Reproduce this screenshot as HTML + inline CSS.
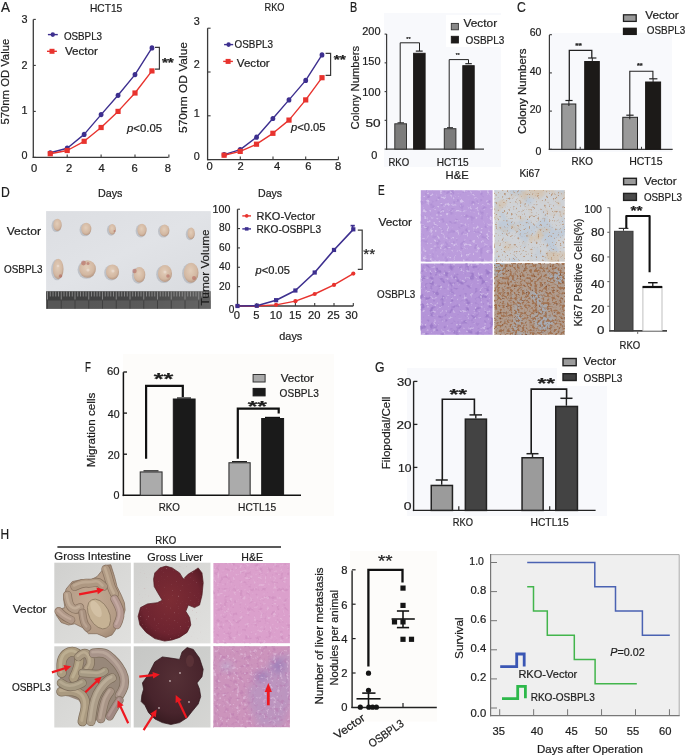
<!DOCTYPE html>
<html><head><meta charset="utf-8"><style>
html,body{margin:0;padding:0;background:#fff;}
body{width:685px;height:756px;overflow:hidden;}
svg{display:block;font-family:"Liberation Sans", sans-serif;will-change:transform;}
text{stroke:#1e1e1e;stroke-width:0.22px;}
</style></head><body>
<svg width="685" height="756" viewBox="0 0 685 756">
<defs><linearGradient id="dbg" x1="0" y1="0" x2="1" y2="1">
<stop offset="0" stop-color="#dcdee2"/><stop offset="0.5" stop-color="#e1e3e7"/><stop offset="1" stop-color="#d9dbdf"/></linearGradient>
<linearGradient id="rul" x1="0" y1="0" x2="1" y2="0">
<stop offset="0" stop-color="#3e3e3e"/><stop offset="0.6" stop-color="#474747"/><stop offset="1" stop-color="#5e5e5e"/></linearGradient>
<radialGradient id="tum" cx="0.45" cy="0.4" r="0.62">
<stop offset="0" stop-color="#e2cdb9"/><stop offset="0.7" stop-color="#d3b8a2"/><stop offset="1" stop-color="#b59682"/></radialGradient>
<filter id="heW" x="0" y="0" width="1" height="1" color-interpolation-filters="sRGB"><feTurbulence type="fractalNoise" baseFrequency="0.3" numOctaves="2" seed="3"/><feColorMatrix type="matrix" values="0 0 0 0 0.910  0 0 0 0 0.871  0 0 0 0 0.961  6 0 0 0 -3.600"/><feGaussianBlur stdDeviation="0.45"/></filter>
<filter id="heD" x="0" y="0" width="1" height="1" color-interpolation-filters="sRGB"><feTurbulence type="fractalNoise" baseFrequency="0.2" numOctaves="2" seed="8"/><feColorMatrix type="matrix" values="0 0 0 0 0.608  0 0 0 0 0.471  0 0 0 0 0.784  5 0 0 0 -2.900"/><feGaussianBlur stdDeviation="0.45"/></filter>
<filter id="heW2" x="0" y="0" width="1" height="1" color-interpolation-filters="sRGB"><feTurbulence type="fractalNoise" baseFrequency="0.3" numOctaves="2" seed="11"/><feColorMatrix type="matrix" values="0 0 0 0 0.910  0 0 0 0 0.871  0 0 0 0 0.961  6 0 0 0 -3.720"/><feGaussianBlur stdDeviation="0.45"/></filter>
<filter id="heD2" x="0" y="0" width="1" height="1" color-interpolation-filters="sRGB"><feTurbulence type="fractalNoise" baseFrequency="0.2" numOctaves="2" seed="13"/><feColorMatrix type="matrix" values="0 0 0 0 0.549  0 0 0 0 0.412  0 0 0 0 0.745  5 0 0 0 -2.700"/><feGaussianBlur stdDeviation="0.45"/></filter>
<filter id="kBl" x="0" y="0" width="1" height="1" color-interpolation-filters="sRGB"><feTurbulence type="fractalNoise" baseFrequency="0.05" numOctaves="3" seed="21"/><feColorMatrix type="matrix" values="0 0 0 0 0.706  0 0 0 0 0.776  0 0 0 0 0.855  6 0 0 0 -3.000"/><feGaussianBlur stdDeviation="0.45"/></filter>
<filter id="kTan" x="0" y="0" width="1" height="1" color-interpolation-filters="sRGB"><feTurbulence type="fractalNoise" baseFrequency="0.06" numOctaves="3" seed="26"/><feColorMatrix type="matrix" values="0 0 0 0 0.843  0 0 0 0 0.745  0 0 0 0 0.627  5 0 0 0 -2.600"/><feGaussianBlur stdDeviation="0.45"/></filter>
<filter id="kBr" x="0" y="0" width="1" height="1" color-interpolation-filters="sRGB"><feTurbulence type="fractalNoise" baseFrequency="0.45" numOctaves="2" seed="22"/><feColorMatrix type="matrix" values="0 0 0 0 0.686  0 0 0 0 0.490  0 0 0 0 0.333  6 0 0 0 -3.600"/><feGaussianBlur stdDeviation="0.45"/></filter>
<filter id="kBr2" x="0" y="0" width="1" height="1" color-interpolation-filters="sRGB"><feTurbulence type="fractalNoise" baseFrequency="0.40" numOctaves="2" seed="23"/><feColorMatrix type="matrix" values="0 0 0 0 0.627  0 0 0 0 0.431  0 0 0 0 0.294  5 0 0 0 -2.300"/><feGaussianBlur stdDeviation="0.45"/></filter>
<filter id="kDk" x="0" y="0" width="1" height="1" color-interpolation-filters="sRGB"><feTurbulence type="fractalNoise" baseFrequency="0.5" numOctaves="2" seed="24"/><feColorMatrix type="matrix" values="0 0 0 0 0.431  0 0 0 0 0.255  0 0 0 0 0.176  7 0 0 0 -4.760"/><feGaussianBlur stdDeviation="0.45"/></filter>
<filter id="kBl2" x="0" y="0" width="1" height="1" color-interpolation-filters="sRGB"><feTurbulence type="fractalNoise" baseFrequency="0.045" numOctaves="3" seed="25"/><feColorMatrix type="matrix" values="0 0 0 0 0.627  0 0 0 0 0.725  0 0 0 0 0.824  6 0 0 0 -3.360"/><feGaussianBlur stdDeviation="0.45"/></filter>
<linearGradient id="gbg" x1="0" y1="0" x2="1" y2="1">
<stop offset="0" stop-color="#d0d0ce"/><stop offset="0.5" stop-color="#d9d9d7"/><stop offset="1" stop-color="#e0e0de"/></linearGradient>
<linearGradient id="gbg2" x1="0" y1="0" x2="1" y2="1">
<stop offset="0" stop-color="#c6c7c5"/><stop offset="0.6" stop-color="#cfd0ce"/><stop offset="1" stop-color="#d6d6d4"/></linearGradient>
<radialGradient id="intg" cx="0.5" cy="0.5" r="0.6">
<stop offset="0" stop-color="#c2aa94"/><stop offset="0.75" stop-color="#b29a84"/><stop offset="1" stop-color="#9a826e"/></radialGradient>
<radialGradient id="intg2" cx="0.45" cy="0.45" r="0.6">
<stop offset="0" stop-color="#b0a088"/><stop offset="0.75" stop-color="#a09078"/><stop offset="1" stop-color="#8a7a68"/></radialGradient>
<radialGradient id="livg" cx="0.5" cy="0.45" r="0.6">
<stop offset="0" stop-color="#7c2c34"/><stop offset="0.75" stop-color="#6e2430"/><stop offset="1" stop-color="#561a24"/></radialGradient>
<radialGradient id="livg2" cx="0.55" cy="0.4" r="0.6">
<stop offset="0" stop-color="#553036"/><stop offset="0.75" stop-color="#48242c"/><stop offset="1" stop-color="#3a1c22"/></radialGradient>
<filter id="hpW" x="0" y="0" width="1" height="1" color-interpolation-filters="sRGB"><feTurbulence type="fractalNoise" baseFrequency="0.3" numOctaves="2" seed="31"/><feColorMatrix type="matrix" values="0 0 0 0 0.941  0 0 0 0 0.843  0 0 0 0 0.922  6 0 0 0 -3.600"/><feGaussianBlur stdDeviation="0.45"/></filter>
<filter id="hpD" x="0" y="0" width="1" height="1" color-interpolation-filters="sRGB"><feTurbulence type="fractalNoise" baseFrequency="0.25" numOctaves="2" seed="32"/><feColorMatrix type="matrix" values="0 0 0 0 0.745  0 0 0 0 0.471  0 0 0 0 0.686  5 0 0 0 -2.800"/><feGaussianBlur stdDeviation="0.45"/></filter>
<filter id="hpW2" x="0" y="0" width="1" height="1" color-interpolation-filters="sRGB"><feTurbulence type="fractalNoise" baseFrequency="0.3" numOctaves="2" seed="33"/><feColorMatrix type="matrix" values="0 0 0 0 0.922  0 0 0 0 0.824  0 0 0 0 0.922  6 0 0 0 -3.600"/><feGaussianBlur stdDeviation="0.45"/></filter>
<filter id="hpD2" x="0" y="0" width="1" height="1" color-interpolation-filters="sRGB"><feTurbulence type="fractalNoise" baseFrequency="0.25" numOctaves="2" seed="34"/><feColorMatrix type="matrix" values="0 0 0 0 0.706  0 0 0 0 0.431  0 0 0 0 0.667  5 0 0 0 -2.750"/><feGaussianBlur stdDeviation="0.45"/></filter>
<filter id="hpB" x="0" y="0" width="1" height="1" color-interpolation-filters="sRGB"><feTurbulence type="fractalNoise" baseFrequency="0.06" numOctaves="3" seed="35"/><feColorMatrix type="matrix" values="0 0 0 0 0.549  0 0 0 0 0.471  0 0 0 0 0.745  7 0 0 0 -3.850"/><feGaussianBlur stdDeviation="0.45"/></filter>
<filter id="lvS" x="0" y="0" width="1" height="1" color-interpolation-filters="sRGB"><feTurbulence type="fractalNoise" baseFrequency="0.5" numOctaves="2" seed="36"/><feColorMatrix type="matrix" values="0 0 0 0 0.784  0 0 0 0 0.627  0 0 0 0 0.647  8 0 0 0 -5.600"/><feGaussianBlur stdDeviation="0.45"/></filter>
<filter id="bl3" x="-0.3" y="-0.3" width="1.6" height="1.6"><feGaussianBlur stdDeviation="3"/></filter></defs>
<rect width="685" height="756" fill="#ffffff"/>
<text x="1.00" y="11.52" font-size="14" fill="#1e1e1e" textLength="9.00" lengthAdjust="spacingAndGlyphs">A</text>
<text x="89.90" y="11.95" font-size="11.2" fill="#1e1e1e" textLength="32.40" lengthAdjust="spacingAndGlyphs">HCT15</text>
<line x1="33.30" y1="19.40" x2="33.30" y2="158.00" stroke="#3a3a3a" stroke-width="1.3"/>
<line x1="32.70" y1="157.40" x2="168.50" y2="157.40" stroke="#3a3a3a" stroke-width="1.3"/>
<line x1="33.30" y1="157.40" x2="35.80" y2="157.40" stroke="#3a3a3a" stroke-width="1.1"/>
<line x1="33.30" y1="111.40" x2="35.80" y2="111.40" stroke="#3a3a3a" stroke-width="1.1"/>
<line x1="33.30" y1="65.40" x2="35.80" y2="65.40" stroke="#3a3a3a" stroke-width="1.1"/>
<line x1="33.30" y1="19.40" x2="35.80" y2="19.40" stroke="#3a3a3a" stroke-width="1.1"/>
<line x1="67.20" y1="157.40" x2="67.20" y2="154.40" stroke="#3a3a3a" stroke-width="1.1"/>
<line x1="101.10" y1="157.40" x2="101.10" y2="154.40" stroke="#3a3a3a" stroke-width="1.1"/>
<line x1="135.00" y1="157.40" x2="135.00" y2="154.40" stroke="#3a3a3a" stroke-width="1.1"/>
<line x1="168.90" y1="157.40" x2="168.90" y2="154.40" stroke="#3a3a3a" stroke-width="1.1"/>
<text x="24.60" y="23.22" font-size="10.8" fill="#1e1e1e" text-anchor="middle">3</text>
<text x="24.60" y="69.32" font-size="10.8" fill="#1e1e1e" text-anchor="middle">2</text>
<text x="24.60" y="114.12" font-size="10.8" fill="#1e1e1e" text-anchor="middle">1</text>
<text x="24.60" y="158.52" font-size="10.8" fill="#1e1e1e" text-anchor="middle">0</text>
<text x="34.10" y="172.25" font-size="11.2" fill="#1e1e1e" text-anchor="middle">0</text>
<text x="69.10" y="172.25" font-size="11.2" fill="#1e1e1e" text-anchor="middle">2</text>
<text x="101.50" y="172.25" font-size="11.2" fill="#1e1e1e" text-anchor="middle">4</text>
<text x="134.50" y="172.25" font-size="11.2" fill="#1e1e1e" text-anchor="middle">6</text>
<text x="167.80" y="172.25" font-size="11.2" fill="#1e1e1e" text-anchor="middle">8</text>
<path d="M50.25,152.80 L67.20,148.20 L84.15,134.40 L101.10,114.62 L118.05,95.30 L135.00,74.60 L151.95,47.92" stroke="#3d2f8f" stroke-width="1.4" fill="none" stroke-linejoin="round"/>
<path d="M50.25,153.72 L67.20,150.50 L84.15,141.30 L101.10,127.50 L118.05,111.40 L135.00,93.00 L151.95,70.92" stroke="#e8332e" stroke-width="1.4" fill="none" stroke-linejoin="round"/>
<ellipse cx="50.25" cy="152.80" rx="2.4" ry="2.6" fill="#3d2f8f"/>
<ellipse cx="67.20" cy="148.20" rx="2.4" ry="2.6" fill="#3d2f8f"/>
<ellipse cx="84.15" cy="134.40" rx="2.4" ry="2.6" fill="#3d2f8f"/>
<ellipse cx="101.10" cy="114.62" rx="2.4" ry="2.6" fill="#3d2f8f"/>
<ellipse cx="118.05" cy="95.30" rx="2.4" ry="2.6" fill="#3d2f8f"/>
<ellipse cx="135.00" cy="74.60" rx="2.4" ry="2.6" fill="#3d2f8f"/>
<ellipse cx="151.95" cy="47.92" rx="2.4" ry="2.6" fill="#3d2f8f"/>
<rect x="47.65" y="151.12" width="5.20" height="5.20" fill="#e8332e" stroke="none" stroke-width="1"/>
<rect x="64.60" y="147.90" width="5.20" height="5.20" fill="#e8332e" stroke="none" stroke-width="1"/>
<rect x="81.55" y="138.70" width="5.20" height="5.20" fill="#e8332e" stroke="none" stroke-width="1"/>
<rect x="98.50" y="124.90" width="5.20" height="5.20" fill="#e8332e" stroke="none" stroke-width="1"/>
<rect x="115.45" y="108.80" width="5.20" height="5.20" fill="#e8332e" stroke="none" stroke-width="1"/>
<rect x="132.40" y="90.40" width="5.20" height="5.20" fill="#e8332e" stroke="none" stroke-width="1"/>
<rect x="149.35" y="68.32" width="5.20" height="5.20" fill="#e8332e" stroke="none" stroke-width="1"/>
<line x1="47.90" y1="34.60" x2="57.80" y2="34.60" stroke="#3d2f8f" stroke-width="1.4"/>
<ellipse cx="52.8" cy="34.6" rx="2.2" ry="2.4" fill="#3d2f8f"/>
<text x="63.90" y="39.85" font-size="11.2" fill="#1e1e1e" textLength="38.20" lengthAdjust="spacingAndGlyphs">OSBPL3</text>
<line x1="47.00" y1="51.30" x2="56.90" y2="51.30" stroke="#e8332e" stroke-width="1.4"/>
<rect x="49.50" y="48.80" width="5.00" height="5.00" fill="#e8332e" stroke="none" stroke-width="1"/>
<text x="64.90" y="55.45" font-size="11.2" fill="#1e1e1e" textLength="33.10" lengthAdjust="spacingAndGlyphs">Vector</text>
<path d="M155,47.3 L159.4,47.3 L159.4,69.2 L155,69.2" stroke="#3a3a3a" stroke-width="1.2" fill="none"/>
<text x="161.90" y="66.74" font-size="12.63" fill="#1e1e1e" font-weight="bold" textLength="11.90" lengthAdjust="spacingAndGlyphs">**</text>
<text x="127.00" y="132.35" font-size="11.2" fill="#1e1e1e" textLength="35.00" lengthAdjust="spacingAndGlyphs"><tspan font-style="italic">p</tspan><tspan>&lt;0.05</tspan></text>
<text transform="translate(4.80,81.65) rotate(-90)" x="-42.85" y="3.85" font-size="11.2" fill="#1e1e1e" textLength="85.70" lengthAdjust="spacingAndGlyphs">570nm OD Value</text>
<text x="98.00" y="197.15" font-size="11.2" fill="#1e1e1e" textLength="24.50" lengthAdjust="spacingAndGlyphs">Days</text>
<text x="264.50" y="10.85" font-size="11.2" fill="#1e1e1e" textLength="20.00" lengthAdjust="spacingAndGlyphs">RKO</text>
<line x1="207.60" y1="28.20" x2="207.60" y2="160.20" stroke="#3a3a3a" stroke-width="1.3"/>
<line x1="207.00" y1="159.60" x2="338.50" y2="159.60" stroke="#3a3a3a" stroke-width="1.3"/>
<line x1="207.60" y1="159.60" x2="210.60" y2="159.60" stroke="#3a3a3a" stroke-width="1.1"/>
<line x1="207.60" y1="115.80" x2="210.60" y2="115.80" stroke="#3a3a3a" stroke-width="1.1"/>
<line x1="207.60" y1="72.00" x2="210.60" y2="72.00" stroke="#3a3a3a" stroke-width="1.1"/>
<line x1="207.60" y1="28.20" x2="210.60" y2="28.20" stroke="#3a3a3a" stroke-width="1.1"/>
<line x1="240.30" y1="159.60" x2="240.30" y2="156.60" stroke="#3a3a3a" stroke-width="1.1"/>
<line x1="273.00" y1="159.60" x2="273.00" y2="156.60" stroke="#3a3a3a" stroke-width="1.1"/>
<line x1="305.70" y1="159.60" x2="305.70" y2="156.60" stroke="#3a3a3a" stroke-width="1.1"/>
<line x1="338.40" y1="159.60" x2="338.40" y2="156.60" stroke="#3a3a3a" stroke-width="1.1"/>
<text x="196.80" y="25.42" font-size="10.8" fill="#1e1e1e" text-anchor="middle">3</text>
<text x="196.80" y="68.42" font-size="10.8" fill="#1e1e1e" text-anchor="middle">2</text>
<text x="196.80" y="116.52" font-size="10.8" fill="#1e1e1e" text-anchor="middle">1</text>
<text x="196.80" y="159.62" font-size="10.8" fill="#1e1e1e" text-anchor="middle">0</text>
<text x="209.50" y="170.25" font-size="11.2" fill="#1e1e1e" text-anchor="middle">0</text>
<text x="240.50" y="170.25" font-size="11.2" fill="#1e1e1e" text-anchor="middle">2</text>
<text x="277.00" y="170.25" font-size="11.2" fill="#1e1e1e" text-anchor="middle">4</text>
<text x="308.40" y="170.25" font-size="11.2" fill="#1e1e1e" text-anchor="middle">6</text>
<text x="338.00" y="170.25" font-size="11.2" fill="#1e1e1e" text-anchor="middle">8</text>
<path d="M224.10,154.70 L240.20,149.60 L256.50,137.20 L272.90,118.50 L289.00,99.90 L305.70,80.40 L322.00,54.90" stroke="#3d2f8f" stroke-width="1.4" fill="none" stroke-linejoin="round"/>
<path d="M224.10,155.20 L240.20,151.40 L256.50,144.20 L272.90,133.30 L289.00,120.10 L305.70,99.90 L322.00,77.70" stroke="#e8332e" stroke-width="1.4" fill="none" stroke-linejoin="round"/>
<ellipse cx="224.10" cy="154.70" rx="2.4" ry="2.6" fill="#3d2f8f"/>
<ellipse cx="240.20" cy="149.60" rx="2.4" ry="2.6" fill="#3d2f8f"/>
<ellipse cx="256.50" cy="137.20" rx="2.4" ry="2.6" fill="#3d2f8f"/>
<ellipse cx="272.90" cy="118.50" rx="2.4" ry="2.6" fill="#3d2f8f"/>
<ellipse cx="289.00" cy="99.90" rx="2.4" ry="2.6" fill="#3d2f8f"/>
<ellipse cx="305.70" cy="80.40" rx="2.4" ry="2.6" fill="#3d2f8f"/>
<ellipse cx="322.00" cy="54.90" rx="2.4" ry="2.6" fill="#3d2f8f"/>
<rect x="221.50" y="152.60" width="5.20" height="5.20" fill="#e8332e" stroke="none" stroke-width="1"/>
<rect x="237.60" y="148.80" width="5.20" height="5.20" fill="#e8332e" stroke="none" stroke-width="1"/>
<rect x="253.90" y="141.60" width="5.20" height="5.20" fill="#e8332e" stroke="none" stroke-width="1"/>
<rect x="270.30" y="130.70" width="5.20" height="5.20" fill="#e8332e" stroke="none" stroke-width="1"/>
<rect x="286.40" y="117.50" width="5.20" height="5.20" fill="#e8332e" stroke="none" stroke-width="1"/>
<rect x="303.10" y="97.30" width="5.20" height="5.20" fill="#e8332e" stroke="none" stroke-width="1"/>
<rect x="319.40" y="75.10" width="5.20" height="5.20" fill="#e8332e" stroke="none" stroke-width="1"/>
<line x1="224.10" y1="44.60" x2="233.20" y2="44.60" stroke="#3d2f8f" stroke-width="1.4"/>
<ellipse cx="228.6" cy="44.6" rx="2.2" ry="2.4" fill="#3d2f8f"/>
<text x="234.60" y="47.85" font-size="11.2" fill="#1e1e1e" textLength="38.40" lengthAdjust="spacingAndGlyphs">OSBPL3</text>
<line x1="223.20" y1="61.40" x2="232.90" y2="61.40" stroke="#e8332e" stroke-width="1.4"/>
<rect x="225.60" y="58.90" width="5.00" height="5.00" fill="#e8332e" stroke="none" stroke-width="1"/>
<text x="236.80" y="66.55" font-size="11.2" fill="#1e1e1e" textLength="32.90" lengthAdjust="spacingAndGlyphs">Vector</text>
<path d="M325.6,53.4 L330.6,53.4 L330.6,75.4 L325.6,75.4" stroke="#3a3a3a" stroke-width="1.2" fill="none"/>
<text x="333.70" y="63.84" font-size="12.63" fill="#1e1e1e" font-weight="bold" textLength="12.20" lengthAdjust="spacingAndGlyphs">**</text>
<text x="291.00" y="131.45" font-size="11.2" fill="#1e1e1e" textLength="34.60" lengthAdjust="spacingAndGlyphs"><tspan font-style="italic">p</tspan><tspan>&lt;0.05</tspan></text>
<text transform="translate(183.50,87.50) rotate(-90)" x="-45.50" y="3.85" font-size="11.2" fill="#1e1e1e" textLength="91.00" lengthAdjust="spacingAndGlyphs">570nm OD Value</text>
<text x="258.00" y="196.85" font-size="11.2" fill="#1e1e1e" textLength="24.10" lengthAdjust="spacingAndGlyphs">Days</text>
<rect x="384.00" y="13.00" width="117.00" height="154.00" fill="#f8f9fc" stroke="none" stroke-width="1"/>
<rect x="446.00" y="15.00" width="60.00" height="32.00" fill="#ffffff" stroke="none" stroke-width="1"/>
<text x="350.10" y="12.32" font-size="14" fill="#1e1e1e" textLength="7.20" lengthAdjust="spacingAndGlyphs">B</text>
<line x1="386.60" y1="34.00" x2="386.60" y2="149.70" stroke="#3a3a3a" stroke-width="1.2"/>
<line x1="386.00" y1="149.10" x2="484.00" y2="149.10" stroke="#3a3a3a" stroke-width="1.2"/>
<line x1="384.60" y1="149.10" x2="386.60" y2="149.10" stroke="#3a3a3a" stroke-width="1.1"/>
<line x1="384.60" y1="120.35" x2="386.60" y2="120.35" stroke="#3a3a3a" stroke-width="1.1"/>
<line x1="384.60" y1="91.60" x2="386.60" y2="91.60" stroke="#3a3a3a" stroke-width="1.1"/>
<line x1="384.60" y1="62.85" x2="386.60" y2="62.85" stroke="#3a3a3a" stroke-width="1.1"/>
<line x1="384.60" y1="34.10" x2="386.60" y2="34.10" stroke="#3a3a3a" stroke-width="1.1"/>
<text x="362.20" y="34.92" font-size="10.8" fill="#1e1e1e" textLength="18.30" lengthAdjust="spacingAndGlyphs">200</text>
<text x="362.20" y="65.02" font-size="10.8" fill="#1e1e1e" textLength="18.30" lengthAdjust="spacingAndGlyphs">150</text>
<text x="362.20" y="95.72" font-size="10.8" fill="#1e1e1e" textLength="18.30" lengthAdjust="spacingAndGlyphs">100</text>
<text x="365.40" y="126.52" font-size="10.8" fill="#1e1e1e" textLength="15.10" lengthAdjust="spacingAndGlyphs">50</text>
<text x="371.30" y="158.72" font-size="10.8" fill="#1e1e1e" textLength="6.10" lengthAdjust="spacingAndGlyphs">0</text>
<rect x="394.80" y="123.80" width="11.70" height="25.30" fill="#7c7c7c" stroke="#333" stroke-width="1.0"/>
<rect x="413.60" y="53.30" width="11.50" height="95.80" fill="#1d1b1a" stroke="#1d1b1a" stroke-width="1.0"/>
<rect x="444.30" y="128.70" width="11.60" height="20.40" fill="#7c7c7c" stroke="#333" stroke-width="1.0"/>
<rect x="462.80" y="65.70" width="11.40" height="83.40" fill="#1d1b1a" stroke="#1d1b1a" stroke-width="1.0"/>
<line x1="415.80" y1="51.10" x2="422.70" y2="51.10" stroke="#222" stroke-width="1.2"/>
<line x1="465.30" y1="63.70" x2="471.80" y2="63.70" stroke="#222" stroke-width="1.2"/>
<line x1="397.50" y1="122.80" x2="404.00" y2="122.80" stroke="#222" stroke-width="1.0"/>
<line x1="447.00" y1="127.70" x2="453.00" y2="127.70" stroke="#222" stroke-width="1.0"/>
<path d="M400.2,123 L400.2,42.8 L419.5,42.8 L419.5,51" stroke="#222" stroke-width="1.0" fill="none"/>
<path d="M449.2,128 L449.2,59.6 L468.5,59.6 L468.5,63.7" stroke="#222" stroke-width="1.0" fill="none"/>
<text x="406.30" y="41.22" font-size="5.70" fill="#1e1e1e" textLength="4.40" lengthAdjust="spacingAndGlyphs">**</text>
<text x="455.80" y="56.92" font-size="5.70" fill="#1e1e1e" textLength="3.90" lengthAdjust="spacingAndGlyphs">**</text>
<rect x="451.30" y="23.40" width="7.10" height="6.40" fill="#888" stroke="#333" stroke-width="0.9"/>
<rect x="451.30" y="36.30" width="7.10" height="6.70" fill="#1d1b1a" stroke="#1d1b1a" stroke-width="0.9"/>
<text x="463.50" y="26.95" font-size="11.2" fill="#1e1e1e" textLength="33.60" lengthAdjust="spacingAndGlyphs">Vector</text>
<text x="465.50" y="44.15" font-size="11.2" fill="#1e1e1e" textLength="38.90" lengthAdjust="spacingAndGlyphs">OSBPL3</text>
<text x="388.40" y="166.45" font-size="11.2" fill="#1e1e1e" textLength="20.80" lengthAdjust="spacingAndGlyphs">RKO</text>
<text x="436.70" y="166.45" font-size="11.2" fill="#1e1e1e" textLength="32.00" lengthAdjust="spacingAndGlyphs">HCT15</text>
<text x="445.60" y="178.55" font-size="11.2" fill="#1e1e1e" textLength="23.10" lengthAdjust="spacingAndGlyphs">H&amp;E</text>
<text transform="translate(354.70,87.70) rotate(-90)" x="-41.70" y="3.85" font-size="11.2" fill="#1e1e1e" textLength="83.40" lengthAdjust="spacingAndGlyphs">Colony Numbers</text>
<rect x="549.00" y="33.00" width="123.00" height="119.00" fill="#f8f9fc" stroke="none" stroke-width="1"/>
<text x="517.00" y="12.22" font-size="14" fill="#1e1e1e" textLength="8.80" lengthAdjust="spacingAndGlyphs">C</text>
<line x1="549.40" y1="35.00" x2="549.40" y2="149.90" stroke="#3a3a3a" stroke-width="1.2"/>
<line x1="548.80" y1="149.30" x2="672.70" y2="149.30" stroke="#3a3a3a" stroke-width="1.2"/>
<line x1="549.40" y1="149.30" x2="551.90" y2="149.30" stroke="#3a3a3a" stroke-width="1.1"/>
<line x1="549.40" y1="111.10" x2="551.90" y2="111.10" stroke="#3a3a3a" stroke-width="1.1"/>
<line x1="549.40" y1="72.90" x2="551.90" y2="72.90" stroke="#3a3a3a" stroke-width="1.1"/>
<line x1="549.40" y1="34.70" x2="551.90" y2="34.70" stroke="#3a3a3a" stroke-width="1.1"/>
<text x="529.70" y="35.82" font-size="10.8" fill="#1e1e1e" textLength="11.70" lengthAdjust="spacingAndGlyphs">60</text>
<text x="529.70" y="74.52" font-size="10.8" fill="#1e1e1e" textLength="11.70" lengthAdjust="spacingAndGlyphs">40</text>
<text x="529.70" y="113.22" font-size="10.8" fill="#1e1e1e" textLength="11.70" lengthAdjust="spacingAndGlyphs">20</text>
<text x="535.50" y="155.02" font-size="10.8" fill="#1e1e1e" textLength="5.90" lengthAdjust="spacingAndGlyphs">0</text>
<rect x="561.80" y="104.00" width="14.00" height="45.30" fill="#9a9a9a" stroke="#222" stroke-width="1.0"/>
<rect x="584.70" y="61.50" width="14.60" height="87.80" fill="#1c1a18" stroke="#1c1a18" stroke-width="1.0"/>
<rect x="622.80" y="117.30" width="14.70" height="32.00" fill="#9a9a9a" stroke="#222" stroke-width="1.0"/>
<rect x="645.60" y="82.00" width="15.00" height="67.30" fill="#1c1a18" stroke="#1c1a18" stroke-width="1.0"/>
<line x1="580.20" y1="149.30" x2="580.20" y2="146.80" stroke="#3a3a3a" stroke-width="1"/>
<line x1="641.50" y1="149.30" x2="641.50" y2="146.80" stroke="#3a3a3a" stroke-width="1"/>
<line x1="565.40" y1="100.50" x2="572.60" y2="100.50" stroke="#222" stroke-width="1.2"/>
<line x1="568.90" y1="100.50" x2="568.90" y2="106.00" stroke="#222" stroke-width="1.0"/>
<line x1="588.10" y1="58.00" x2="596.40" y2="58.00" stroke="#222" stroke-width="1.2"/>
<line x1="592.30" y1="58.00" x2="592.30" y2="62.00" stroke="#222" stroke-width="1.0"/>
<line x1="626.30" y1="115.20" x2="633.60" y2="115.20" stroke="#222" stroke-width="1.2"/>
<line x1="629.80" y1="115.20" x2="629.80" y2="119.30" stroke="#222" stroke-width="1.0"/>
<line x1="649.20" y1="78.80" x2="657.40" y2="78.80" stroke="#222" stroke-width="1.2"/>
<line x1="653.10" y1="78.80" x2="653.10" y2="82.00" stroke="#222" stroke-width="1.0"/>
<path d="M569.3,100.5 L569.3,50.3 L591.8,50.3 L591.8,58" stroke="#222" stroke-width="1.3" fill="none"/>
<path d="M629.8,115.2 L629.8,71.2 L652.9,71.2 L652.9,78.8" stroke="#222" stroke-width="1.1" fill="none"/>
<text x="575.20" y="48.31" font-size="6.99" fill="#1e1e1e" font-weight="bold" textLength="6.70" lengthAdjust="spacingAndGlyphs">**</text>
<text x="637.00" y="67.61" font-size="6.99" fill="#1e1e1e" font-weight="bold" textLength="5.70" lengthAdjust="spacingAndGlyphs">**</text>
<rect x="623.50" y="14.80" width="12.70" height="6.60" fill="#999" stroke="#222" stroke-width="1.3"/>
<rect x="623.50" y="28.30" width="12.70" height="6.10" fill="#1c1a18" stroke="#1c1a18" stroke-width="1.3"/>
<text x="645.30" y="19.45" font-size="11.2" fill="#1e1e1e" textLength="33.50" lengthAdjust="spacingAndGlyphs">Vector</text>
<text x="646.80" y="33.75" font-size="11.2" fill="#1e1e1e" textLength="38.50" lengthAdjust="spacingAndGlyphs">OSBPL3</text>
<text x="571.60" y="165.35" font-size="11.2" fill="#1e1e1e" textLength="21.40" lengthAdjust="spacingAndGlyphs">RKO</text>
<text x="629.20" y="165.35" font-size="11.2" fill="#1e1e1e" textLength="33.30" lengthAdjust="spacingAndGlyphs">HCT15</text>
<text x="519.50" y="177.25" font-size="11.2" fill="#1e1e1e" textLength="20.50" lengthAdjust="spacingAndGlyphs">Ki67</text>
<text transform="translate(522.00,91.30) rotate(-90)" x="-42.70" y="3.85" font-size="11.2" fill="#1e1e1e" textLength="85.40" lengthAdjust="spacingAndGlyphs">Colony Numbers</text>
<text x="1.00" y="197.12" font-size="14" fill="#1e1e1e" textLength="8.80" lengthAdjust="spacingAndGlyphs">D</text>
<text x="6.70" y="234.85" font-size="11.2" fill="#1e1e1e" textLength="34.30" lengthAdjust="spacingAndGlyphs">Vector</text>
<text x="4.00" y="272.85" font-size="11.2" fill="#1e1e1e" textLength="38.60" lengthAdjust="spacingAndGlyphs">OSBPL3</text>
<rect x="46.10" y="211.10" width="164.70" height="80.40" fill="url(#dbg)" stroke="none" stroke-width="1"/>
<rect x="46.10" y="291.20" width="164.70" height="17.60" fill="url(#rul)" stroke="none" stroke-width="1"/>
<rect x="46.10" y="300.50" width="164.70" height="8.30" fill="#6a6a6a" stroke="none" stroke-width="1" opacity="0.55"/>
<line x1="47.50" y1="291.50" x2="47.50" y2="299.50" stroke="#a0a0a0" stroke-width="0.7"/>
<line x1="50.25" y1="291.50" x2="50.25" y2="296.50" stroke="#a0a0a0" stroke-width="0.7"/>
<line x1="53.00" y1="291.50" x2="53.00" y2="296.50" stroke="#a0a0a0" stroke-width="0.7"/>
<line x1="55.75" y1="291.50" x2="55.75" y2="296.50" stroke="#a0a0a0" stroke-width="0.7"/>
<line x1="58.50" y1="291.50" x2="58.50" y2="296.50" stroke="#a0a0a0" stroke-width="0.7"/>
<line x1="61.25" y1="291.50" x2="61.25" y2="299.50" stroke="#a0a0a0" stroke-width="0.7"/>
<line x1="64.00" y1="291.50" x2="64.00" y2="296.50" stroke="#a0a0a0" stroke-width="0.7"/>
<line x1="66.75" y1="291.50" x2="66.75" y2="296.50" stroke="#a0a0a0" stroke-width="0.7"/>
<line x1="69.50" y1="291.50" x2="69.50" y2="296.50" stroke="#a0a0a0" stroke-width="0.7"/>
<line x1="72.25" y1="291.50" x2="72.25" y2="296.50" stroke="#a0a0a0" stroke-width="0.7"/>
<line x1="75.00" y1="291.50" x2="75.00" y2="299.50" stroke="#a0a0a0" stroke-width="0.7"/>
<line x1="77.75" y1="291.50" x2="77.75" y2="296.50" stroke="#a0a0a0" stroke-width="0.7"/>
<line x1="80.50" y1="291.50" x2="80.50" y2="296.50" stroke="#a0a0a0" stroke-width="0.7"/>
<line x1="83.25" y1="291.50" x2="83.25" y2="296.50" stroke="#a0a0a0" stroke-width="0.7"/>
<line x1="86.00" y1="291.50" x2="86.00" y2="296.50" stroke="#a0a0a0" stroke-width="0.7"/>
<line x1="88.75" y1="291.50" x2="88.75" y2="299.50" stroke="#a0a0a0" stroke-width="0.7"/>
<line x1="91.50" y1="291.50" x2="91.50" y2="296.50" stroke="#a0a0a0" stroke-width="0.7"/>
<line x1="94.25" y1="291.50" x2="94.25" y2="296.50" stroke="#a0a0a0" stroke-width="0.7"/>
<line x1="97.00" y1="291.50" x2="97.00" y2="296.50" stroke="#a0a0a0" stroke-width="0.7"/>
<line x1="99.75" y1="291.50" x2="99.75" y2="296.50" stroke="#a0a0a0" stroke-width="0.7"/>
<line x1="102.50" y1="291.50" x2="102.50" y2="299.50" stroke="#a0a0a0" stroke-width="0.7"/>
<line x1="105.25" y1="291.50" x2="105.25" y2="296.50" stroke="#a0a0a0" stroke-width="0.7"/>
<line x1="108.00" y1="291.50" x2="108.00" y2="296.50" stroke="#a0a0a0" stroke-width="0.7"/>
<line x1="110.75" y1="291.50" x2="110.75" y2="296.50" stroke="#a0a0a0" stroke-width="0.7"/>
<line x1="113.50" y1="291.50" x2="113.50" y2="296.50" stroke="#a0a0a0" stroke-width="0.7"/>
<line x1="116.25" y1="291.50" x2="116.25" y2="299.50" stroke="#a0a0a0" stroke-width="0.7"/>
<line x1="119.00" y1="291.50" x2="119.00" y2="296.50" stroke="#a0a0a0" stroke-width="0.7"/>
<line x1="121.75" y1="291.50" x2="121.75" y2="296.50" stroke="#a0a0a0" stroke-width="0.7"/>
<line x1="124.50" y1="291.50" x2="124.50" y2="296.50" stroke="#a0a0a0" stroke-width="0.7"/>
<line x1="127.25" y1="291.50" x2="127.25" y2="296.50" stroke="#a0a0a0" stroke-width="0.7"/>
<line x1="130.00" y1="291.50" x2="130.00" y2="299.50" stroke="#a0a0a0" stroke-width="0.7"/>
<line x1="132.75" y1="291.50" x2="132.75" y2="296.50" stroke="#a0a0a0" stroke-width="0.7"/>
<line x1="135.50" y1="291.50" x2="135.50" y2="296.50" stroke="#a0a0a0" stroke-width="0.7"/>
<line x1="138.25" y1="291.50" x2="138.25" y2="296.50" stroke="#a0a0a0" stroke-width="0.7"/>
<line x1="141.00" y1="291.50" x2="141.00" y2="296.50" stroke="#a0a0a0" stroke-width="0.7"/>
<line x1="143.75" y1="291.50" x2="143.75" y2="299.50" stroke="#a0a0a0" stroke-width="0.7"/>
<line x1="146.50" y1="291.50" x2="146.50" y2="296.50" stroke="#a0a0a0" stroke-width="0.7"/>
<line x1="149.25" y1="291.50" x2="149.25" y2="296.50" stroke="#a0a0a0" stroke-width="0.7"/>
<line x1="152.00" y1="291.50" x2="152.00" y2="296.50" stroke="#a0a0a0" stroke-width="0.7"/>
<line x1="154.75" y1="291.50" x2="154.75" y2="296.50" stroke="#a0a0a0" stroke-width="0.7"/>
<line x1="157.50" y1="291.50" x2="157.50" y2="299.50" stroke="#a0a0a0" stroke-width="0.7"/>
<line x1="160.25" y1="291.50" x2="160.25" y2="296.50" stroke="#a0a0a0" stroke-width="0.7"/>
<line x1="163.00" y1="291.50" x2="163.00" y2="296.50" stroke="#a0a0a0" stroke-width="0.7"/>
<line x1="165.75" y1="291.50" x2="165.75" y2="296.50" stroke="#a0a0a0" stroke-width="0.7"/>
<line x1="168.50" y1="291.50" x2="168.50" y2="296.50" stroke="#a0a0a0" stroke-width="0.7"/>
<line x1="171.25" y1="291.50" x2="171.25" y2="299.50" stroke="#a0a0a0" stroke-width="0.7"/>
<line x1="174.00" y1="291.50" x2="174.00" y2="296.50" stroke="#a0a0a0" stroke-width="0.7"/>
<line x1="176.75" y1="291.50" x2="176.75" y2="296.50" stroke="#a0a0a0" stroke-width="0.7"/>
<line x1="179.50" y1="291.50" x2="179.50" y2="296.50" stroke="#a0a0a0" stroke-width="0.7"/>
<line x1="182.25" y1="291.50" x2="182.25" y2="296.50" stroke="#a0a0a0" stroke-width="0.7"/>
<line x1="185.00" y1="291.50" x2="185.00" y2="299.50" stroke="#a0a0a0" stroke-width="0.7"/>
<line x1="187.75" y1="291.50" x2="187.75" y2="296.50" stroke="#a0a0a0" stroke-width="0.7"/>
<line x1="190.50" y1="291.50" x2="190.50" y2="296.50" stroke="#a0a0a0" stroke-width="0.7"/>
<line x1="193.25" y1="291.50" x2="193.25" y2="296.50" stroke="#a0a0a0" stroke-width="0.7"/>
<line x1="196.00" y1="291.50" x2="196.00" y2="296.50" stroke="#a0a0a0" stroke-width="0.7"/>
<line x1="198.75" y1="291.50" x2="198.75" y2="299.50" stroke="#a0a0a0" stroke-width="0.7"/>
<line x1="201.50" y1="291.50" x2="201.50" y2="296.50" stroke="#a0a0a0" stroke-width="0.7"/>
<line x1="204.25" y1="291.50" x2="204.25" y2="296.50" stroke="#a0a0a0" stroke-width="0.7"/>
<line x1="207.00" y1="291.50" x2="207.00" y2="296.50" stroke="#a0a0a0" stroke-width="0.7"/>
<line x1="209.75" y1="291.50" x2="209.75" y2="296.50" stroke="#a0a0a0" stroke-width="0.7"/>
<line x1="47.50" y1="300.50" x2="47.50" y2="308.50" stroke="#3a3a3a" stroke-width="0.8"/>
<line x1="61.25" y1="300.50" x2="61.25" y2="308.50" stroke="#3a3a3a" stroke-width="0.8"/>
<line x1="75.00" y1="300.50" x2="75.00" y2="308.50" stroke="#3a3a3a" stroke-width="0.8"/>
<line x1="88.75" y1="300.50" x2="88.75" y2="308.50" stroke="#3a3a3a" stroke-width="0.8"/>
<line x1="102.50" y1="300.50" x2="102.50" y2="308.50" stroke="#3a3a3a" stroke-width="0.8"/>
<line x1="116.25" y1="300.50" x2="116.25" y2="308.50" stroke="#3a3a3a" stroke-width="0.8"/>
<line x1="130.00" y1="300.50" x2="130.00" y2="308.50" stroke="#3a3a3a" stroke-width="0.8"/>
<line x1="143.75" y1="300.50" x2="143.75" y2="308.50" stroke="#3a3a3a" stroke-width="0.8"/>
<line x1="157.50" y1="300.50" x2="157.50" y2="308.50" stroke="#3a3a3a" stroke-width="0.8"/>
<line x1="171.25" y1="300.50" x2="171.25" y2="308.50" stroke="#3a3a3a" stroke-width="0.8"/>
<line x1="185.00" y1="300.50" x2="185.00" y2="308.50" stroke="#3a3a3a" stroke-width="0.8"/>
<line x1="198.75" y1="300.50" x2="198.75" y2="308.50" stroke="#3a3a3a" stroke-width="0.8"/>
<ellipse cx="56.3" cy="225.7" rx="4.8" ry="6.4" fill="#9ea2aa" opacity="0.5"/>
<ellipse cx="57.5" cy="224.9" rx="4.2" ry="6.1" fill="url(#tum)"/>
<ellipse cx="85.1" cy="229.8" rx="5.6" ry="6.5" fill="#9ea2aa" opacity="0.5"/>
<ellipse cx="86.3" cy="229.0" rx="5.0" ry="6.2" fill="url(#tum)"/>
<ellipse cx="111.1" cy="230.1" rx="4.2" ry="5.6" fill="#9ea2aa" opacity="0.5"/>
<ellipse cx="112.3" cy="229.3" rx="3.6" ry="5.3" fill="url(#tum)"/>
<ellipse cx="140.8" cy="230.8" rx="5.2" ry="6.6" fill="#9ea2aa" opacity="0.5"/>
<ellipse cx="142.0" cy="230.0" rx="4.6" ry="6.3" fill="url(#tum)"/>
<ellipse cx="163.4" cy="231.3" rx="5.4" ry="6.3" fill="#9ea2aa" opacity="0.5"/>
<ellipse cx="164.6" cy="230.5" rx="4.8" ry="6.0" fill="url(#tum)"/>
<ellipse cx="190.0" cy="234.2" rx="4.2" ry="6.1" fill="#9ea2aa" opacity="0.5"/>
<ellipse cx="191.2" cy="233.4" rx="3.6" ry="5.8" fill="url(#tum)"/>
<ellipse cx="57.0" cy="269.8" rx="5.9" ry="10.5" fill="#9ea2aa" opacity="0.5"/>
<ellipse cx="58.2" cy="269.0" rx="5.3" ry="10.2" fill="url(#tum)"/>
<ellipse cx="86.4" cy="269.8" rx="8.9" ry="9.0" fill="#9ea2aa" opacity="0.5"/>
<ellipse cx="87.6" cy="269.0" rx="8.3" ry="8.7" fill="url(#tum)"/>
<ellipse cx="111.3" cy="272.7" rx="7.1" ry="7.8" fill="#9ea2aa" opacity="0.5"/>
<ellipse cx="112.5" cy="271.9" rx="6.5" ry="7.5" fill="url(#tum)"/>
<ellipse cx="138.3" cy="275.6" rx="6.4" ry="8.1" fill="#9ea2aa" opacity="0.5"/>
<ellipse cx="139.5" cy="274.8" rx="5.8" ry="7.8" fill="url(#tum)"/>
<ellipse cx="163.8" cy="274.2" rx="7.6" ry="8.8" fill="#9ea2aa" opacity="0.5"/>
<ellipse cx="165.0" cy="273.4" rx="7.0" ry="8.5" fill="url(#tum)"/>
<ellipse cx="190.0" cy="273.5" rx="7.9" ry="10.3" fill="#9ea2aa" opacity="0.5"/>
<ellipse cx="191.2" cy="272.7" rx="7.3" ry="10.0" fill="url(#tum)"/>
<circle cx="83.5" cy="263" r="2.4" fill="#b0605a" opacity="0.55"/>
<circle cx="60.5" cy="276" r="1.8" fill="#b0605a" opacity="0.55"/>
<circle cx="134.5" cy="271" r="2.2" fill="#b0605a" opacity="0.55"/>
<circle cx="168" cy="276" r="1.8" fill="#b0605a" opacity="0.55"/>
<circle cx="194" cy="278" r="2" fill="#b0605a" opacity="0.55"/>
<circle cx="114.5" cy="231" r="1" fill="#b0605a" opacity="0.55"/>
<circle cx="88" cy="263.5" r="1.5" fill="#b0605a" opacity="0.55"/>
<circle cx="88" cy="270" r="1.6" fill="#eadbd0" opacity="0.8"/>
<circle cx="113" cy="271" r="1.5" fill="#eadbd0" opacity="0.8"/>
<circle cx="165" cy="272" r="1.5" fill="#eadbd0" opacity="0.8"/>
<circle cx="58" cy="266" r="1.3" fill="#eadbd0" opacity="0.8"/>
<line x1="237.50" y1="209.20" x2="237.50" y2="306.60" stroke="#3a3a3a" stroke-width="1.3"/>
<line x1="236.90" y1="306.00" x2="353.30" y2="306.00" stroke="#3a3a3a" stroke-width="1.3"/>
<line x1="237.50" y1="286.64" x2="240.00" y2="286.64" stroke="#3a3a3a" stroke-width="1.1"/>
<line x1="237.50" y1="267.28" x2="240.00" y2="267.28" stroke="#3a3a3a" stroke-width="1.1"/>
<line x1="237.50" y1="247.92" x2="240.00" y2="247.92" stroke="#3a3a3a" stroke-width="1.1"/>
<line x1="237.50" y1="228.56" x2="240.00" y2="228.56" stroke="#3a3a3a" stroke-width="1.1"/>
<line x1="237.50" y1="209.20" x2="240.00" y2="209.20" stroke="#3a3a3a" stroke-width="1.1"/>
<line x1="256.80" y1="306.00" x2="256.80" y2="303.00" stroke="#3a3a3a" stroke-width="1.1"/>
<line x1="276.10" y1="306.00" x2="276.10" y2="303.00" stroke="#3a3a3a" stroke-width="1.1"/>
<line x1="295.40" y1="306.00" x2="295.40" y2="303.00" stroke="#3a3a3a" stroke-width="1.1"/>
<line x1="314.70" y1="306.00" x2="314.70" y2="303.00" stroke="#3a3a3a" stroke-width="1.1"/>
<line x1="334.00" y1="306.00" x2="334.00" y2="303.00" stroke="#3a3a3a" stroke-width="1.1"/>
<line x1="353.30" y1="306.00" x2="353.30" y2="303.00" stroke="#3a3a3a" stroke-width="1.1"/>
<text x="212.60" y="212.82" font-size="10.8" fill="#1e1e1e" textLength="17.80" lengthAdjust="spacingAndGlyphs">100</text>
<text x="219.00" y="231.12" font-size="10.8" fill="#1e1e1e" textLength="11.40" lengthAdjust="spacingAndGlyphs">80</text>
<text x="219.00" y="250.92" font-size="10.8" fill="#1e1e1e" textLength="11.40" lengthAdjust="spacingAndGlyphs">60</text>
<text x="219.00" y="270.02" font-size="10.8" fill="#1e1e1e" textLength="11.40" lengthAdjust="spacingAndGlyphs">40</text>
<text x="219.00" y="290.22" font-size="10.8" fill="#1e1e1e" textLength="11.40" lengthAdjust="spacingAndGlyphs">20</text>
<text x="228.80" y="312.82" font-size="10.8" fill="#1e1e1e" textLength="5.60" lengthAdjust="spacingAndGlyphs">0</text>
<text x="236.80" y="318.75" font-size="11.2" fill="#1e1e1e" text-anchor="middle">0</text>
<text x="256.30" y="318.75" font-size="11.2" fill="#1e1e1e" text-anchor="middle">5</text>
<text x="276.00" y="318.75" font-size="11.2" fill="#1e1e1e" text-anchor="middle">10</text>
<text x="295.30" y="318.75" font-size="11.2" fill="#1e1e1e" text-anchor="middle">15</text>
<text x="314.30" y="318.75" font-size="11.2" fill="#1e1e1e" text-anchor="middle">20</text>
<text x="333.40" y="318.75" font-size="11.2" fill="#1e1e1e" text-anchor="middle">25</text>
<text x="351.50" y="318.75" font-size="11.2" fill="#1e1e1e" text-anchor="middle">30</text>
<text x="279.30" y="339.85" font-size="11.2" fill="#1e1e1e" textLength="23.00" lengthAdjust="spacingAndGlyphs">days</text>
<path d="M237.50,306.00 L256.80,306.00 L276.10,304.84 L295.40,301.16 L314.70,294.00 L334.00,284.90 L353.30,273.57" stroke="#e8332e" stroke-width="1.4" fill="none" stroke-linejoin="round"/>
<path d="M237.50,306.00 L256.80,305.71 L276.10,300.19 L295.40,290.51 L314.70,272.51 L334.00,249.95 L353.30,229.33" stroke="#3d2f8f" stroke-width="1.6" fill="none" stroke-linejoin="round"/>
<circle cx="237.50" cy="306.00" r="2.1" fill="#e8332e"/>
<circle cx="256.80" cy="306.00" r="2.1" fill="#e8332e"/>
<circle cx="276.10" cy="304.84" r="2.1" fill="#e8332e"/>
<circle cx="295.40" cy="301.16" r="2.1" fill="#e8332e"/>
<circle cx="314.70" cy="294.00" r="2.1" fill="#e8332e"/>
<circle cx="334.00" cy="284.90" r="2.1" fill="#e8332e"/>
<circle cx="353.30" cy="273.57" r="2.1" fill="#e8332e"/>
<rect x="235.40" y="303.90" width="4.20" height="4.20" fill="#3d2f8f" stroke="none" stroke-width="1"/>
<rect x="254.70" y="303.61" width="4.20" height="4.20" fill="#3d2f8f" stroke="none" stroke-width="1"/>
<rect x="274.00" y="298.09" width="4.20" height="4.20" fill="#3d2f8f" stroke="none" stroke-width="1"/>
<rect x="293.30" y="288.41" width="4.20" height="4.20" fill="#3d2f8f" stroke="none" stroke-width="1"/>
<rect x="312.60" y="270.41" width="4.20" height="4.20" fill="#3d2f8f" stroke="none" stroke-width="1"/>
<rect x="331.90" y="247.85" width="4.20" height="4.20" fill="#3d2f8f" stroke="none" stroke-width="1"/>
<rect x="351.20" y="227.23" width="4.20" height="4.20" fill="#3d2f8f" stroke="none" stroke-width="1"/>
<line x1="352.70" y1="225.40" x2="352.70" y2="229.40" stroke="#3d2f8f" stroke-width="1.5"/>
<rect x="350.60" y="224.80" width="4.20" height="1.70" fill="#3d2f8f" stroke="none" stroke-width="1"/>
<line x1="242.30" y1="215.90" x2="251.00" y2="215.90" stroke="#e8332e" stroke-width="1.4"/>
<circle cx="246.7" cy="215.9" r="1.8" fill="#e8332e"/>
<text x="256.60" y="219.95" font-size="11.2" fill="#1e1e1e" textLength="58.60" lengthAdjust="spacingAndGlyphs">RKO-Vector</text>
<line x1="242.30" y1="228.90" x2="251.00" y2="228.90" stroke="#3d2f8f" stroke-width="1.4"/>
<rect x="244.90" y="227.20" width="3.60" height="3.40" fill="#3d2f8f" stroke="none" stroke-width="1"/>
<text x="256.60" y="232.95" font-size="11.2" fill="#1e1e1e" textLength="64.40" lengthAdjust="spacingAndGlyphs">RKO-OSBPL3</text>
<text x="255.50" y="274.05" font-size="11.2" fill="#1e1e1e" textLength="34.40" lengthAdjust="spacingAndGlyphs"><tspan font-style="italic">p</tspan><tspan>&lt;0.05</tspan></text>
<path d="M357.8,230.2 L362.2,230.2 L362.2,269.4 L357.8,269.4" stroke="#3a3a3a" stroke-width="1.2" fill="none"/>
<text x="363.20" y="258.60" font-size="14.25" fill="#1e1e1e" textLength="11.90" lengthAdjust="spacingAndGlyphs">**</text>
<text transform="translate(205.20,267.40) rotate(-90)" x="-38.00" y="3.85" font-size="11.2" fill="#1e1e1e" textLength="76.00" lengthAdjust="spacingAndGlyphs">Tumor Volume</text>
<text x="377.90" y="195.02" font-size="14" fill="#1e1e1e" textLength="6.70" lengthAdjust="spacingAndGlyphs">E</text>
<text x="378.40" y="226.35" font-size="11.2" fill="#1e1e1e" textLength="33.60" lengthAdjust="spacingAndGlyphs">Vector</text>
<text x="377.00" y="297.85" font-size="11.2" fill="#1e1e1e" textLength="38.20" lengthAdjust="spacingAndGlyphs">OSBPL3</text>
<rect x="420.80" y="190.20" width="71.80" height="71.30" fill="#bb9cdc" stroke="none" stroke-width="1"/>
<rect x="420.80" y="190.20" width="71.80" height="71.30" fill="#000" stroke="none" stroke-width="1" filter="url(#heD)" opacity="0.4"/>
<rect x="420.80" y="190.20" width="71.80" height="71.30" fill="#000" stroke="none" stroke-width="1" filter="url(#heW)" opacity="0.55"/>
<rect x="420.80" y="263.50" width="71.80" height="71.30" fill="#b494d8" stroke="none" stroke-width="1"/>
<rect x="420.80" y="263.50" width="71.80" height="71.30" fill="#000" stroke="none" stroke-width="1" filter="url(#heD2)" opacity="0.55"/>
<rect x="420.80" y="263.50" width="71.80" height="71.30" fill="#000" stroke="none" stroke-width="1" filter="url(#heW2)" opacity="0.5"/>
<rect x="494.40" y="190.20" width="70.40" height="71.30" fill="#cfd2d6" stroke="none" stroke-width="1"/>
<rect x="494.40" y="190.20" width="70.40" height="71.30" fill="#000" stroke="none" stroke-width="1" filter="url(#kBl)" opacity="0.55"/>
<rect x="494.40" y="190.20" width="70.40" height="71.30" fill="#000" stroke="none" stroke-width="1" filter="url(#kTan)" opacity="0.6"/>
<rect x="494.40" y="190.20" width="70.40" height="71.30" fill="#000" stroke="none" stroke-width="1" filter="url(#kBr)" opacity="0.65"/>
<rect x="494.40" y="263.50" width="70.40" height="71.30" fill="#b09c8e" stroke="none" stroke-width="1"/>
<rect x="494.40" y="263.50" width="70.40" height="71.30" fill="#000" stroke="none" stroke-width="1" filter="url(#kBl2)" opacity="0.55"/>
<rect x="494.40" y="263.50" width="70.40" height="71.30" fill="#000" stroke="none" stroke-width="1" filter="url(#kBr2)" opacity="0.9"/>
<rect x="494.40" y="263.50" width="70.40" height="71.30" fill="#000" stroke="none" stroke-width="1" filter="url(#kDk)" opacity="0.8"/>
<line x1="609.80" y1="207.60" x2="609.80" y2="331.50" stroke="#666" stroke-width="1.2"/>
<line x1="609.20" y1="330.90" x2="667.00" y2="330.90" stroke="#444" stroke-width="1.6"/>
<line x1="607.30" y1="306.25" x2="609.80" y2="306.25" stroke="#666" stroke-width="1.1"/>
<line x1="607.30" y1="281.60" x2="609.80" y2="281.60" stroke="#666" stroke-width="1.1"/>
<line x1="607.30" y1="256.95" x2="609.80" y2="256.95" stroke="#666" stroke-width="1.1"/>
<line x1="607.30" y1="232.30" x2="609.80" y2="232.30" stroke="#666" stroke-width="1.1"/>
<line x1="607.30" y1="207.65" x2="609.80" y2="207.65" stroke="#666" stroke-width="1.1"/>
<line x1="637.70" y1="330.90" x2="637.70" y2="333.90" stroke="#666" stroke-width="1"/>
<text x="584.30" y="212.72" font-size="10.8" fill="#1e1e1e" textLength="17.60" lengthAdjust="spacingAndGlyphs">100</text>
<text x="591.00" y="236.22" font-size="10.8" fill="#1e1e1e" textLength="13.40" lengthAdjust="spacingAndGlyphs">80</text>
<text x="591.00" y="261.82" font-size="10.8" fill="#1e1e1e" textLength="13.40" lengthAdjust="spacingAndGlyphs">60</text>
<text x="591.00" y="287.72" font-size="10.8" fill="#1e1e1e" textLength="13.40" lengthAdjust="spacingAndGlyphs">40</text>
<text x="591.00" y="312.92" font-size="10.8" fill="#1e1e1e" textLength="13.40" lengthAdjust="spacingAndGlyphs">20</text>
<text x="597.00" y="334.32" font-size="10.8" fill="#1e1e1e" textLength="7.40" lengthAdjust="spacingAndGlyphs">0</text>
<rect x="614.50" y="231.30" width="18.50" height="99.60" fill="#505050" stroke="#3a3a3a" stroke-width="1.0"/>
<rect x="642.90" y="287.20" width="19.10" height="43.70" fill="#fff" stroke="#b8b8b8" stroke-width="0.9"/>
<line x1="642.50" y1="287.00" x2="662.30" y2="287.00" stroke="#111" stroke-width="2.2"/>
<line x1="618.70" y1="228.40" x2="628.40" y2="228.40" stroke="#333" stroke-width="1.2"/>
<line x1="623.50" y1="228.40" x2="623.50" y2="230.80" stroke="#333" stroke-width="1"/>
<line x1="648.10" y1="282.70" x2="657.60" y2="282.70" stroke="#111" stroke-width="1.4"/>
<line x1="652.80" y1="282.70" x2="652.80" y2="286.00" stroke="#111" stroke-width="1.2"/>
<path d="M626.3,228 L626.3,216 L649.6,216 L649.6,272.3" stroke="#111" stroke-width="2.1" fill="none" stroke-linejoin="round"/>
<text x="630.50" y="214.75" font-size="13.44" fill="#1e1e1e" font-weight="bold" textLength="12.00" lengthAdjust="spacingAndGlyphs">**</text>
<rect x="623.60" y="178.30" width="12.80" height="6.40" fill="#9a9a9a" stroke="#222" stroke-width="1.4"/>
<rect x="623.60" y="193.40" width="12.80" height="7.00" fill="#4a4a4a" stroke="#222" stroke-width="1.4"/>
<text x="643.90" y="184.75" font-size="11.2" fill="#1e1e1e" textLength="32.70" lengthAdjust="spacingAndGlyphs">Vector</text>
<text x="643.90" y="201.35" font-size="11.2" fill="#1e1e1e" textLength="38.20" lengthAdjust="spacingAndGlyphs">OSBPL3</text>
<text x="619.50" y="348.75" font-size="11.2" fill="#1e1e1e" textLength="20.70" lengthAdjust="spacingAndGlyphs">RKO</text>
<text transform="translate(578.40,272.50) rotate(-90)" x="-53.90" y="3.85" font-size="11.2" fill="#1e1e1e" textLength="107.80" lengthAdjust="spacingAndGlyphs">Ki67 Positive Cells(%)</text>
<text x="85.10" y="371.52" font-size="14" fill="#1e1e1e" textLength="5.90" lengthAdjust="spacingAndGlyphs">F</text>
<rect x="123.00" y="354.00" width="211.00" height="162.00" fill="#fdfcfa" stroke="none" stroke-width="1"/>
<line x1="123.40" y1="372.20" x2="123.40" y2="496.10" stroke="#111" stroke-width="1.5"/>
<line x1="122.70" y1="495.30" x2="301.00" y2="495.30" stroke="#111" stroke-width="1.5"/>
<line x1="123.40" y1="454.20" x2="127.00" y2="454.20" stroke="#111" stroke-width="1.3"/>
<line x1="123.40" y1="413.10" x2="127.00" y2="413.10" stroke="#111" stroke-width="1.3"/>
<line x1="123.40" y1="372.00" x2="127.00" y2="372.00" stroke="#111" stroke-width="1.3"/>
<text x="107.00" y="375.45" font-size="11.2" fill="#1e1e1e" textLength="12.60" lengthAdjust="spacingAndGlyphs">60</text>
<text x="107.80" y="418.25" font-size="11.2" fill="#1e1e1e" textLength="11.80" lengthAdjust="spacingAndGlyphs">40</text>
<text x="107.80" y="458.55" font-size="11.2" fill="#1e1e1e" textLength="11.80" lengthAdjust="spacingAndGlyphs">20</text>
<text x="113.60" y="499.35" font-size="11.2" fill="#1e1e1e" textLength="6.00" lengthAdjust="spacingAndGlyphs">0</text>
<rect x="140.25" y="471.95" width="21.80" height="23.35" fill="#ababab" stroke="#333" stroke-width="1.1"/>
<rect x="173.30" y="399.00" width="21.80" height="96.30" fill="#1a1a1a" stroke="#1a1a1a" stroke-width="1.0"/>
<rect x="228.95" y="462.75" width="21.20" height="32.55" fill="#ababab" stroke="#333" stroke-width="1.1"/>
<rect x="261.70" y="418.50" width="21.90" height="76.80" fill="#1a1a1a" stroke="#1a1a1a" stroke-width="1.0"/>
<line x1="143.50" y1="470.80" x2="158.50" y2="470.80" stroke="#222" stroke-width="1.2"/>
<line x1="232.00" y1="461.60" x2="247.00" y2="461.60" stroke="#222" stroke-width="1.2"/>
<line x1="177.00" y1="398.00" x2="191.00" y2="398.00" stroke="#111" stroke-width="1.2"/>
<line x1="265.00" y1="417.40" x2="280.00" y2="417.40" stroke="#111" stroke-width="1.2"/>
<path d="M146.1,458.7 L146.1,385.8 L182.8,385.8 L182.8,397.1" stroke="#111" stroke-width="2.2" fill="none"/>
<path d="M237.8,458.8 L237.8,408.6 L278.7,408.6 L278.7,413.5" stroke="#111" stroke-width="2.2" fill="none"/>
<text x="153.70" y="384.97" font-size="16.67" fill="#1e1e1e" font-weight="bold" textLength="19.50" lengthAdjust="spacingAndGlyphs">**</text>
<text x="247.70" y="411.09" font-size="15.32" fill="#1e1e1e" font-weight="bold" textLength="19.20" lengthAdjust="spacingAndGlyphs">**</text>
<rect x="253.10" y="374.50" width="12.00" height="7.50" fill="#aaa" stroke="#333" stroke-width="1.0"/>
<rect x="253.10" y="388.40" width="12.00" height="7.50" fill="#1a1a1a" stroke="#1a1a1a" stroke-width="1.0"/>
<text x="280.70" y="382.45" font-size="11.2" fill="#1e1e1e" textLength="33.10" lengthAdjust="spacingAndGlyphs">Vector</text>
<text x="279.60" y="396.95" font-size="11.2" fill="#1e1e1e" textLength="39.20" lengthAdjust="spacingAndGlyphs">OSBPL3</text>
<text x="158.70" y="510.75" font-size="11.2" fill="#1e1e1e" textLength="21.20" lengthAdjust="spacingAndGlyphs">RKO</text>
<text x="238.10" y="510.75" font-size="11.2" fill="#1e1e1e" textLength="38.10" lengthAdjust="spacingAndGlyphs">HCTL15</text>
<text transform="translate(90.85,429.95) rotate(-90)" x="-37.35" y="3.85" font-size="11.2" fill="#1e1e1e" textLength="74.70" lengthAdjust="spacingAndGlyphs">Migration cells</text>
<text x="375.10" y="371.52" font-size="14" fill="#1e1e1e" textLength="9.50" lengthAdjust="spacingAndGlyphs">G</text>
<rect x="407.00" y="368.00" width="200.00" height="148.00" fill="#f8f9fc" stroke="none" stroke-width="1"/>
<rect x="557.00" y="352.00" width="73.00" height="34.00" fill="#ffffff" stroke="none" stroke-width="1"/>
<line x1="413.60" y1="381.30" x2="413.60" y2="511.10" stroke="#222" stroke-width="1.4"/>
<line x1="412.90" y1="510.40" x2="595.60" y2="510.40" stroke="#222" stroke-width="1.4"/>
<line x1="413.60" y1="467.40" x2="417.40" y2="467.40" stroke="#222" stroke-width="1.3"/>
<line x1="413.60" y1="424.40" x2="417.40" y2="424.40" stroke="#222" stroke-width="1.3"/>
<line x1="413.60" y1="381.40" x2="417.40" y2="381.40" stroke="#222" stroke-width="1.3"/>
<text x="397.00" y="385.85" font-size="11.2" fill="#1e1e1e" textLength="14.50" lengthAdjust="spacingAndGlyphs">30</text>
<text x="396.50" y="428.85" font-size="11.2" fill="#1e1e1e" textLength="15.00" lengthAdjust="spacingAndGlyphs">20</text>
<text x="398.00" y="472.25" font-size="11.2" fill="#1e1e1e" textLength="13.50" lengthAdjust="spacingAndGlyphs">10</text>
<text x="403.70" y="510.45" font-size="11.2" fill="#1e1e1e" textLength="7.80" lengthAdjust="spacingAndGlyphs">0</text>
<rect x="431.25" y="485.45" width="21.20" height="24.95" fill="#9b9b9b" stroke="#222" stroke-width="1.5"/>
<rect x="465.35" y="419.15" width="21.10" height="91.25" fill="#434343" stroke="#222" stroke-width="1.5"/>
<rect x="522.05" y="457.75" width="21.10" height="52.65" fill="#9b9b9b" stroke="#222" stroke-width="1.5"/>
<rect x="555.75" y="406.45" width="21.70" height="103.95" fill="#434343" stroke="#222" stroke-width="1.5"/>
<line x1="458.80" y1="510.40" x2="458.80" y2="506.20" stroke="#222" stroke-width="1.2"/>
<line x1="549.70" y1="510.40" x2="549.70" y2="506.20" stroke="#222" stroke-width="1.2"/>
<line x1="435.70" y1="480.00" x2="447.80" y2="480.00" stroke="#222" stroke-width="1.5"/>
<line x1="441.70" y1="480.00" x2="441.70" y2="484.70" stroke="#222" stroke-width="1.4"/>
<line x1="469.50" y1="414.90" x2="482.00" y2="414.90" stroke="#222" stroke-width="1.5"/>
<line x1="475.80" y1="414.90" x2="475.80" y2="418.40" stroke="#222" stroke-width="1.4"/>
<line x1="526.50" y1="453.70" x2="538.50" y2="453.70" stroke="#222" stroke-width="1.5"/>
<line x1="532.50" y1="453.70" x2="532.50" y2="457.00" stroke="#222" stroke-width="1.4"/>
<line x1="560.40" y1="398.30" x2="572.50" y2="398.30" stroke="#222" stroke-width="1.5"/>
<line x1="566.40" y1="398.30" x2="566.40" y2="405.70" stroke="#222" stroke-width="1.4"/>
<path d="M442.3,480 L442.3,399.3 L474.4,399.3 L474.4,414.9" stroke="#1a1a1a" stroke-width="1.6" fill="none"/>
<path d="M531.2,453.7 L531.2,389.1 L566.6,389.1 L566.6,398.1" stroke="#1a1a1a" stroke-width="1.6" fill="none"/>
<text x="449.60" y="398.89" font-size="14.52" fill="#1e1e1e" font-weight="bold" textLength="17.50" lengthAdjust="spacingAndGlyphs">**</text>
<text x="537.40" y="387.99" font-size="15.32" fill="#1e1e1e" font-weight="bold" textLength="17.50" lengthAdjust="spacingAndGlyphs">**</text>
<rect x="563.00" y="358.50" width="13.20" height="7.20" fill="#9b9b9b" stroke="#222" stroke-width="1.4"/>
<rect x="563.00" y="373.70" width="13.20" height="6.80" fill="#434343" stroke="#222" stroke-width="1.4"/>
<text x="583.50" y="365.25" font-size="11.2" fill="#1e1e1e" textLength="32.70" lengthAdjust="spacingAndGlyphs">Vector</text>
<text x="583.50" y="382.05" font-size="11.2" fill="#1e1e1e" textLength="38.90" lengthAdjust="spacingAndGlyphs">OSBPL3</text>
<text x="452.70" y="525.65" font-size="11.2" fill="#1e1e1e" textLength="20.20" lengthAdjust="spacingAndGlyphs">RKO</text>
<text x="530.50" y="525.65" font-size="11.2" fill="#1e1e1e" textLength="38.30" lengthAdjust="spacingAndGlyphs">HCTL15</text>
<text transform="translate(386.40,432.95) rotate(-90)" x="-36.35" y="3.85" font-size="11.2" fill="#1e1e1e" textLength="72.70" lengthAdjust="spacingAndGlyphs">Filopodial/Cell</text>
<text x="0.60" y="539.12" font-size="14" fill="#1e1e1e" textLength="8.60" lengthAdjust="spacingAndGlyphs">H</text>
<text x="155.30" y="543.85" font-size="11.2" fill="#1e1e1e" textLength="20.90" lengthAdjust="spacingAndGlyphs">RKO</text>
<line x1="57.40" y1="547.10" x2="281.00" y2="547.10" stroke="#222" stroke-width="1.5"/>
<text x="54.30" y="560.35" font-size="11.2" fill="#1e1e1e" textLength="76.60" lengthAdjust="spacingAndGlyphs">Gross Intestine</text>
<text x="147.30" y="560.75" font-size="11.2" fill="#1e1e1e" textLength="55.70" lengthAdjust="spacingAndGlyphs">Gross Liver</text>
<text x="241.30" y="560.75" font-size="11.2" fill="#1e1e1e" textLength="21.70" lengthAdjust="spacingAndGlyphs">H&amp;E</text>
<text x="12.70" y="612.65" font-size="11.2" fill="#1e1e1e" textLength="33.90" lengthAdjust="spacingAndGlyphs">Vector</text>
<text x="11.90" y="691.05" font-size="11.2" fill="#1e1e1e" textLength="38.90" lengthAdjust="spacingAndGlyphs">OSBPL3</text>
<rect x="54.30" y="562.70" width="76.60" height="80.70" fill="url(#gbg)" stroke="none" stroke-width="1"/>
<rect x="133.70" y="562.70" width="76.80" height="80.70" fill="url(#gbg)" stroke="none" stroke-width="1"/>
<rect x="54.30" y="646.30" width="76.60" height="81.20" fill="url(#gbg)" stroke="none" stroke-width="1"/>
<rect x="133.70" y="646.30" width="76.80" height="81.20" fill="url(#gbg2)" stroke="none" stroke-width="1"/>
<path d="M104.6,565.4 L110.8,564.8 L114.5,576.6 L117.0,586.5 L121.3,595.2 L124.4,602.7 L125.1,610.1 L122.0,620.0 L117.0,627.5 L112.0,634.9 L105.8,637.4 L97.1,633.7 L88.5,633.7 L82.3,627.5 L74.8,623.8 L68.6,625.0 L61.2,622.5 L56.2,615.1 L57.4,610.1 L64.9,607.6 L63.6,598.9 L66.1,589.0 L72.3,581.6 L81.0,579.7 L89.7,580.3 L97.1,576.6 L102.1,570.4 Z" fill="url(#intg)" stroke="#85705f" stroke-width="0.8" stroke-linejoin="round"/>
<path d="M105.8,569.2 Q108.3,576.6 109.6,581.6 Q110.8,586.5 112.7,590.3 L114.5,594.0" stroke="#86705e" stroke-width="8.9" fill="none" stroke-linecap="round" stroke-linejoin="round"/>
<path d="M105.8,569.2 Q108.3,576.6 109.6,581.6 Q110.8,586.5 112.7,590.3 L114.5,594.0" stroke="#b09a84" stroke-width="7.5" fill="none" stroke-linecap="round" stroke-linejoin="round"/>
<path d="M105.8,569.2 Q108.3,576.6 109.6,581.6 Q110.8,586.5 112.7,590.3 L114.5,594.0" stroke="#cdb9a2" stroke-width="2.6" fill="none" stroke-linecap="round" stroke-linejoin="round" opacity="0.55" transform="translate(-0.8,-1.0)"/>
<path d="M74.8,586.5 Q82.3,582.8 86.6,583.1 Q90.9,583.4 94.7,582.5 Q98.4,581.6 100.9,584.1 L103.3,586.5" stroke="#86705e" stroke-width="8.9" fill="none" stroke-linecap="round" stroke-linejoin="round"/>
<path d="M74.8,586.5 Q82.3,582.8 86.6,583.1 Q90.9,583.4 94.7,582.5 Q98.4,581.6 100.9,584.1 L103.3,586.5" stroke="#ae9882" stroke-width="7.5" fill="none" stroke-linecap="round" stroke-linejoin="round"/>
<path d="M74.8,586.5 Q82.3,582.8 86.6,583.1 Q90.9,583.4 94.7,582.5 Q98.4,581.6 100.9,584.1 L103.3,586.5" stroke="#cbb7a0" stroke-width="2.6" fill="none" stroke-linecap="round" stroke-linejoin="round" opacity="0.55" transform="translate(-0.8,-1.0)"/>
<path d="M67.4,595.2 Q68.6,605.1 71.7,607.6 Q74.8,610.1 77.3,608.9 L79.8,607.6" stroke="#86705e" stroke-width="8.9" fill="none" stroke-linecap="round" stroke-linejoin="round"/>
<path d="M67.4,595.2 Q68.6,605.1 71.7,607.6 Q74.8,610.1 77.3,608.9 L79.8,607.6" stroke="#b29c88" stroke-width="7.5" fill="none" stroke-linecap="round" stroke-linejoin="round"/>
<path d="M67.4,595.2 Q68.6,605.1 71.7,607.6 Q74.8,610.1 77.3,608.9 L79.8,607.6" stroke="#cfbba6" stroke-width="2.6" fill="none" stroke-linecap="round" stroke-linejoin="round" opacity="0.55" transform="translate(-0.8,-1.0)"/>
<path d="M58.7,611.3 Q63.6,616.3 67.4,618.2 L71.1,620.0" stroke="#86705e" stroke-width="8.4" fill="none" stroke-linecap="round" stroke-linejoin="round"/>
<path d="M58.7,611.3 Q63.6,616.3 67.4,618.2 L71.1,620.0" stroke="#b09888" stroke-width="7.0" fill="none" stroke-linecap="round" stroke-linejoin="round"/>
<path d="M58.7,611.3 Q63.6,616.3 67.4,618.2 L71.1,620.0" stroke="#cdb6a6" stroke-width="2.4" fill="none" stroke-linecap="round" stroke-linejoin="round" opacity="0.55" transform="translate(-0.8,-1.0)"/>
<path d="M114.5,598.9 Q119.5,607.6 120.1,612.0 Q120.7,616.3 118.9,620.7 L117.0,625.0" stroke="#86705e" stroke-width="8.4" fill="none" stroke-linecap="round" stroke-linejoin="round"/>
<path d="M114.5,598.9 Q119.5,607.6 120.1,612.0 Q120.7,616.3 118.9,620.7 L117.0,625.0" stroke="#b39890" stroke-width="7.0" fill="none" stroke-linecap="round" stroke-linejoin="round"/>
<path d="M114.5,598.9 Q119.5,607.6 120.1,612.0 Q120.7,616.3 118.9,620.7 L117.0,625.0" stroke="#d0b6ae" stroke-width="2.4" fill="none" stroke-linecap="round" stroke-linejoin="round" opacity="0.55" transform="translate(-0.8,-1.0)"/>
<path d="M82.3,612.6 Q83.5,622.5 85.4,625.0 L87.2,627.5" stroke="#86705e" stroke-width="7.9" fill="none" stroke-linecap="round" stroke-linejoin="round"/>
<path d="M82.3,612.6 Q83.5,622.5 85.4,625.0 L87.2,627.5" stroke="#a99280" stroke-width="6.5" fill="none" stroke-linecap="round" stroke-linejoin="round"/>
<path d="M82.3,612.6 Q83.5,622.5 85.4,625.0 L87.2,627.5" stroke="#c6b09e" stroke-width="2.3" fill="none" stroke-linecap="round" stroke-linejoin="round" opacity="0.55" transform="translate(-0.8,-1.0)"/>
<ellipse cx="99" cy="614" rx="10" ry="16" fill="#c6b294" stroke="#8e7a64" stroke-width="0.8" transform="rotate(-28 99 614)"/>
<ellipse cx="96" cy="609" rx="4.5" ry="9" fill="#d8c8ac" opacity="0.7" transform="rotate(-28 96 609)"/>
<path d="M154.8,572.9 L159.8,567.9 L166.0,566.1 L172.2,567.9 L179.6,572.9 L183.3,579.1 L188.3,574.1 L194.5,570.4 L198.2,567.9 L202.0,572.9 L203.2,582.8 L202.0,595.2 L199.5,605.1 L194.5,607.6 L188.3,605.1 L185.8,611.3 L189.6,617.6 L190.8,625.0 L187.1,632.4 L179.6,637.4 L172.2,639.9 L164.7,641.1 L154.8,638.6 L146.1,632.4 L139.9,625.0 L138.1,616.3 L140.5,607.6 L147.4,603.9 L157.3,602.7 L162.3,600.2 L158.5,594.0 L154.2,586.5 L153.6,579.1 Z" fill="url(#livg)" stroke="#4e1820" stroke-width="0.7" stroke-linejoin="round"/>
<path d="M154.8,572.9 L159.8,567.9 L166.0,566.1 L172.2,567.9 L179.6,572.9 L183.3,579.1 L188.3,574.1 L194.5,570.4 L198.2,567.9 L202.0,572.9 L203.2,582.8 L202.0,595.2 L199.5,605.1 L194.5,607.6 L188.3,605.1 L185.8,611.3 L189.6,617.6 L190.8,625.0 L187.1,632.4 L179.6,637.4 L172.2,639.9 L164.7,641.1 L154.8,638.6 L146.1,632.4 L139.9,625.0 L138.1,616.3 L140.5,607.6 L147.4,603.9 L157.3,602.7 L162.3,600.2 L158.5,594.0 L154.2,586.5 L153.6,579.1 Z" fill="#000" filter="url(#lvS)" opacity="0.35"/>
<path d="M59.9,656.9 L64.9,650.7 L74.8,648.8 L84.7,651.3 L92.2,650.7 L99.6,649.4 L107.1,653.2 L114.5,659.4 L120.7,666.8 L125.7,675.5 L126.3,685.4 L123.2,694.1 L120.7,700.3 L115.8,706.5 L108.3,715.2 L100.9,718.9 L93.4,721.4 L87.2,722.6 L82.3,721.4 L79.8,715.2 L82.3,706.5 L78.5,700.3 L68.6,696.6 L59.9,695.3 L58.1,690.4 L61.2,684.2 L59.9,676.7 L63.6,666.8 L60.5,661.9 Z" fill="#98887a" stroke="none"/>
<path d="M61.8,673.0 Q60.5,663.1 62.7,658.4 Q64.9,653.8 69.2,652.2 Q73.6,650.7 76.7,653.2 Q79.8,655.6 79.2,661.2 Q78.5,666.8 76.1,672.4 L73.6,678.0" stroke="#7c6c5a" stroke-width="9.9" fill="none" stroke-linecap="round" stroke-linejoin="round"/>
<path d="M61.8,673.0 Q60.5,663.1 62.7,658.4 Q64.9,653.8 69.2,652.2 Q73.6,650.7 76.7,653.2 Q79.8,655.6 79.2,661.2 Q78.5,666.8 76.1,672.4 L73.6,678.0" stroke="#ac9c80" stroke-width="8.5" fill="none" stroke-linecap="round" stroke-linejoin="round"/>
<path d="M61.8,673.0 Q60.5,663.1 62.7,658.4 Q64.9,653.8 69.2,652.2 Q73.6,650.7 76.7,653.2 Q79.8,655.6 79.2,661.2 Q78.5,666.8 76.1,672.4 L73.6,678.0" stroke="#cbbd9f" stroke-width="3.0" fill="none" stroke-linecap="round" stroke-linejoin="round" opacity="0.55" transform="translate(-0.8,-1.0)"/>
<path d="M78.5,656.9 Q83.5,651.9 86.6,653.8 Q89.7,655.6 90.3,660.0 Q90.9,664.3 89.1,666.8 L87.2,669.3" stroke="#7c6c5a" stroke-width="8.9" fill="none" stroke-linecap="round" stroke-linejoin="round"/>
<path d="M78.5,656.9 Q83.5,651.9 86.6,653.8 Q89.7,655.6 90.3,660.0 Q90.9,664.3 89.1,666.8 L87.2,669.3" stroke="#aa9a82" stroke-width="7.5" fill="none" stroke-linecap="round" stroke-linejoin="round"/>
<path d="M78.5,656.9 Q83.5,651.9 86.6,653.8 Q89.7,655.6 90.3,660.0 Q90.9,664.3 89.1,666.8 L87.2,669.3" stroke="#c8ba9e" stroke-width="2.6" fill="none" stroke-linecap="round" stroke-linejoin="round" opacity="0.55" transform="translate(-0.8,-1.0)"/>
<path d="M93.4,653.2 Q103.3,651.9 107.7,655.0 Q112.0,658.1 115.8,662.5 Q119.5,666.8 122.0,671.8 Q124.4,676.7 124.4,681.7 Q124.4,686.7 122.0,691.0 L119.5,695.3" stroke="#7c6c5a" stroke-width="9.4" fill="none" stroke-linecap="round" stroke-linejoin="round"/>
<path d="M93.4,653.2 Q103.3,651.9 107.7,655.0 Q112.0,658.1 115.8,662.5 Q119.5,666.8 122.0,671.8 Q124.4,676.7 124.4,681.7 Q124.4,686.7 122.0,691.0 L119.5,695.3" stroke="#a8948a" stroke-width="8.0" fill="none" stroke-linecap="round" stroke-linejoin="round"/>
<path d="M93.4,653.2 Q103.3,651.9 107.7,655.0 Q112.0,658.1 115.8,662.5 Q119.5,666.8 122.0,671.8 Q124.4,676.7 124.4,681.7 Q124.4,686.7 122.0,691.0 L119.5,695.3" stroke="#c6b4a8" stroke-width="2.8" fill="none" stroke-linecap="round" stroke-linejoin="round" opacity="0.55" transform="translate(-0.8,-1.0)"/>
<path d="M82.3,673.0 Q90.9,673.6 95.3,673.9 Q99.6,674.3 102.1,672.7 L104.6,671.2" stroke="#7c6c5a" stroke-width="8.4" fill="none" stroke-linecap="round" stroke-linejoin="round"/>
<path d="M82.3,673.0 Q90.9,673.6 95.3,673.9 Q99.6,674.3 102.1,672.7 L104.6,671.2" stroke="#a69a84" stroke-width="7.0" fill="none" stroke-linecap="round" stroke-linejoin="round"/>
<path d="M82.3,673.0 Q90.9,673.6 95.3,673.9 Q99.6,674.3 102.1,672.7 L104.6,671.2" stroke="#c4b89e" stroke-width="2.4" fill="none" stroke-linecap="round" stroke-linejoin="round" opacity="0.55" transform="translate(-0.8,-1.0)"/>
<path d="M61.2,691.6 Q68.6,690.4 73.6,691.3 Q78.5,692.2 81.6,695.0 Q84.7,697.8 85.4,702.8 Q86.0,707.8 84.7,712.1 Q83.5,716.4 83.0,718.9 L82.5,721.4" stroke="#7c6c5a" stroke-width="9.9" fill="none" stroke-linecap="round" stroke-linejoin="round"/>
<path d="M61.2,691.6 Q68.6,690.4 73.6,691.3 Q78.5,692.2 81.6,695.0 Q84.7,697.8 85.4,702.8 Q86.0,707.8 84.7,712.1 Q83.5,716.4 83.0,718.9 L82.5,721.4" stroke="#aa9a80" stroke-width="8.5" fill="none" stroke-linecap="round" stroke-linejoin="round"/>
<path d="M61.2,691.6 Q68.6,690.4 73.6,691.3 Q78.5,692.2 81.6,695.0 Q84.7,697.8 85.4,702.8 Q86.0,707.8 84.7,712.1 Q83.5,716.4 83.0,718.9 L82.5,721.4" stroke="#c8ba9c" stroke-width="3.0" fill="none" stroke-linecap="round" stroke-linejoin="round" opacity="0.55" transform="translate(-0.8,-1.0)"/>
<path d="M61.2,682.9 Q66.1,686.7 70.5,686.7 Q74.8,686.7 78.5,684.8 L82.3,682.9" stroke="#7c6c5a" stroke-width="8.9" fill="none" stroke-linecap="round" stroke-linejoin="round"/>
<path d="M61.2,682.9 Q66.1,686.7 70.5,686.7 Q74.8,686.7 78.5,684.8 L82.3,682.9" stroke="#a49880" stroke-width="7.5" fill="none" stroke-linecap="round" stroke-linejoin="round"/>
<path d="M61.2,682.9 Q66.1,686.7 70.5,686.7 Q74.8,686.7 78.5,684.8 L82.3,682.9" stroke="#c2b69c" stroke-width="2.6" fill="none" stroke-linecap="round" stroke-linejoin="round" opacity="0.55" transform="translate(-0.8,-1.0)"/>
<path d="M90.9,721.4 Q92.2,711.5 93.4,705.3 Q94.7,699.1 97.1,694.1 Q99.6,689.1 103.3,684.8 Q107.1,680.5 109.6,679.2 L112.0,678.0" stroke="#7c6c5a" stroke-width="9.4" fill="none" stroke-linecap="round" stroke-linejoin="round"/>
<path d="M90.9,721.4 Q92.2,711.5 93.4,705.3 Q94.7,699.1 97.1,694.1 Q99.6,689.1 103.3,684.8 Q107.1,680.5 109.6,679.2 L112.0,678.0" stroke="#ab9c88" stroke-width="8.0" fill="none" stroke-linecap="round" stroke-linejoin="round"/>
<path d="M90.9,721.4 Q92.2,711.5 93.4,705.3 Q94.7,699.1 97.1,694.1 Q99.6,689.1 103.3,684.8 Q107.1,680.5 109.6,679.2 L112.0,678.0" stroke="#c9bca6" stroke-width="2.8" fill="none" stroke-linecap="round" stroke-linejoin="round" opacity="0.55" transform="translate(-0.8,-1.0)"/>
<path d="M100.9,718.9 Q102.7,709.0 104.0,704.0 Q105.2,699.1 107.7,695.3 L110.2,691.6" stroke="#7c6c5a" stroke-width="8.9" fill="none" stroke-linecap="round" stroke-linejoin="round"/>
<path d="M100.9,718.9 Q102.7,709.0 104.0,704.0 Q105.2,699.1 107.7,695.3 L110.2,691.6" stroke="#a89486" stroke-width="7.5" fill="none" stroke-linecap="round" stroke-linejoin="round"/>
<path d="M100.9,718.9 Q102.7,709.0 104.0,704.0 Q105.2,699.1 107.7,695.3 L110.2,691.6" stroke="#c6b4a6" stroke-width="2.6" fill="none" stroke-linecap="round" stroke-linejoin="round" opacity="0.55" transform="translate(-0.8,-1.0)"/>
<path d="M109.6,716.4 Q114.5,707.8 117.0,704.0 L119.5,700.3" stroke="#7c6c5a" stroke-width="8.4" fill="none" stroke-linecap="round" stroke-linejoin="round"/>
<path d="M109.6,716.4 Q114.5,707.8 117.0,704.0 L119.5,700.3" stroke="#a08882" stroke-width="7.0" fill="none" stroke-linecap="round" stroke-linejoin="round"/>
<path d="M109.6,716.4 Q114.5,707.8 117.0,704.0 L119.5,700.3" stroke="#bea8a0" stroke-width="2.4" fill="none" stroke-linecap="round" stroke-linejoin="round" opacity="0.55" transform="translate(-0.8,-1.0)"/>
<path d="M154.8,661.9 L162.3,656.9 L170.9,658.1 L179.6,659.4 L182.1,651.9 L187.1,647.6 L193.3,649.4 L199.5,658.1 L203.2,669.3 L202.0,676.7 L197.0,682.9 L199.5,689.1 L200.7,696.6 L198.2,704.0 L192.0,711.5 L187.1,717.7 L179.6,722.6 L170.9,724.5 L162.3,722.6 L154.8,718.9 L148.6,712.7 L144.9,705.3 L141.2,701.6 L141.8,695.3 L143.6,689.1 L142.4,682.9 L148.6,674.3 L152.3,666.8 Z" fill="url(#livg2)" stroke="#2e141a" stroke-width="0.7" stroke-linejoin="round"/>
<ellipse cx="190" cy="661" rx="4" ry="6" fill="#5e343a" opacity="0.8"/>
<circle cx="180" cy="673" r="0.9" fill="#d8c8c8" opacity="0.8"/>
<circle cx="170" cy="681" r="0.9" fill="#d8c8c8" opacity="0.8"/>
<circle cx="159" cy="708" r="0.9" fill="#d8c8c8" opacity="0.8"/>
<circle cx="189" cy="702" r="0.9" fill="#d8c8c8" opacity="0.8"/>
<rect x="213.40" y="563.00" width="76.50" height="80.20" fill="#dba0cc" stroke="none" stroke-width="1"/>
<rect x="213.40" y="563.00" width="76.50" height="80.20" fill="#000" stroke="none" stroke-width="1" filter="url(#hpD)" opacity="0.3"/>
<rect x="213.40" y="563.00" width="76.50" height="80.20" fill="#000" stroke="none" stroke-width="1" filter="url(#hpW)" opacity="0.35"/>
<rect x="213.40" y="646.20" width="76.50" height="81.00" fill="#cc94bc" stroke="none" stroke-width="1"/>
<clipPath id="heclip"><rect x="213.4" y="646.2" width="76.5" height="81"/></clipPath>
<g clip-path="url(#heclip)">
<path d="M292,652 L292,700 L282,727 L258,727 L250,705 L248,690 L262,672 L275,656 Z" fill="#a898c4" opacity="0.45" filter="url(#bl3)"/>
<ellipse cx="261" cy="676" rx="7" ry="4.5" fill="#8a70b4" opacity="0.55" filter="url(#bl3)"/>
<ellipse cx="278" cy="666" rx="6" ry="7" fill="#8a70b4" opacity="0.55" filter="url(#bl3)"/>
<ellipse cx="226.5" cy="666.5" rx="6" ry="5" fill="#c0b0d0" opacity="0.7" filter="url(#bl3)"/>
</g>
<rect x="213.40" y="646.20" width="76.50" height="81.00" fill="#000" stroke="none" stroke-width="1" filter="url(#hpD2)" opacity="0.35"/>
<rect x="213.40" y="646.20" width="76.50" height="81.00" fill="#000" stroke="none" stroke-width="1" filter="url(#hpW2)" opacity="0.45"/>
<line x1="79.10" y1="594.40" x2="97.62" y2="590.83" stroke="#ee1820" stroke-width="2.2"/>
<path d="M104.0,589.6 L97.8,594.3 L96.5,587.6 Z" fill="#ee1820"/>
<line x1="51.90" y1="672.40" x2="64.91" y2="668.20" stroke="#ee1820" stroke-width="2.2"/>
<path d="M71.1,666.2 L65.5,671.6 L63.4,665.1 Z" fill="#ee1820"/>
<line x1="85.40" y1="692.20" x2="96.82" y2="681.21" stroke="#ee1820" stroke-width="2.2"/>
<path d="M101.5,676.7 L98.8,684.0 L94.1,679.1 Z" fill="#ee1820"/>
<line x1="128.20" y1="723.30" x2="120.32" y2="706.20" stroke="#ee1820" stroke-width="2.2"/>
<path d="M117.6,700.3 L123.6,705.2 L117.4,708.1 Z" fill="#ee1820"/>
<line x1="139.30" y1="676.70" x2="153.34" y2="675.19" stroke="#ee1820" stroke-width="2.2"/>
<path d="M159.8,674.5 L153.2,678.6 L152.5,671.9 Z" fill="#ee1820"/>
<line x1="143.60" y1="730.10" x2="153.20" y2="715.08" stroke="#ee1820" stroke-width="2.2"/>
<path d="M156.7,709.6 L155.8,717.3 L150.1,713.7 Z" fill="#ee1820"/>
<line x1="186.50" y1="717.90" x2="178.48" y2="700.97" stroke="#ee1820" stroke-width="2.2"/>
<path d="M175.7,695.1 L181.8,700.0 L175.6,702.9 Z" fill="#ee1820"/>
<line x1="268.30" y1="705.30" x2="268.30" y2="691.50" stroke="#ee1820" stroke-width="2.8"/>
<path d="M268.3,683.0 L271.9,692.0 L264.7,692.0 Z" fill="#ee1820"/>
<rect x="350.00" y="551.00" width="87.00" height="170.60" fill="#fdfcfa" stroke="none" stroke-width="1"/>
<line x1="352.10" y1="570.60" x2="352.10" y2="708.10" stroke="#222" stroke-width="1.4"/>
<line x1="351.40" y1="707.40" x2="436.80" y2="707.40" stroke="#222" stroke-width="1.5"/>
<line x1="352.10" y1="673.00" x2="355.60" y2="673.00" stroke="#222" stroke-width="1.2"/>
<line x1="352.10" y1="638.60" x2="355.60" y2="638.60" stroke="#222" stroke-width="1.2"/>
<line x1="352.10" y1="604.20" x2="355.60" y2="604.20" stroke="#222" stroke-width="1.2"/>
<line x1="352.10" y1="569.80" x2="355.60" y2="569.80" stroke="#222" stroke-width="1.2"/>
<line x1="403.00" y1="707.40" x2="403.00" y2="703.00" stroke="#222" stroke-width="1.2"/>
<text x="344.30" y="573.55" font-size="11.2" fill="#1e1e1e" text-anchor="middle">8</text>
<text x="344.30" y="609.05" font-size="11.2" fill="#1e1e1e" text-anchor="middle">6</text>
<text x="344.30" y="643.15" font-size="11.2" fill="#1e1e1e" text-anchor="middle">4</text>
<text x="344.30" y="677.05" font-size="11.2" fill="#1e1e1e" text-anchor="middle">2</text>
<text x="344.30" y="710.65" font-size="11.2" fill="#1e1e1e" text-anchor="middle">0</text>
<path d="M368.4,666.6 L368.4,569.8 L402.5,569.8 L402.5,582.4" stroke="#111" stroke-width="2.3" fill="none"/>
<text x="377.90" y="567.28" font-size="15.95" fill="#1e1e1e" textLength="14.60" lengthAdjust="spacingAndGlyphs">**</text>
<circle cx="368.5" cy="673.2" r="2.6" fill="#151515"/>
<circle cx="368.5" cy="690.3" r="2.6" fill="#151515"/>
<circle cx="360.3" cy="707.2" r="2.6" fill="#151515"/>
<circle cx="368.8" cy="707.2" r="2.6" fill="#151515"/>
<circle cx="372.6" cy="707.2" r="2.6" fill="#151515"/>
<circle cx="376.4" cy="707.2" r="2.6" fill="#151515"/>
<rect x="400.40" y="585.50" width="5.20" height="5.20" fill="#151515" stroke="none" stroke-width="1"/>
<rect x="400.40" y="602.80" width="5.20" height="5.20" fill="#151515" stroke="none" stroke-width="1"/>
<rect x="391.90" y="619.30" width="5.20" height="5.20" fill="#151515" stroke="none" stroke-width="1"/>
<rect x="400.40" y="619.30" width="5.20" height="5.20" fill="#151515" stroke="none" stroke-width="1"/>
<rect x="400.40" y="636.70" width="5.20" height="5.20" fill="#151515" stroke="none" stroke-width="1"/>
<rect x="408.90" y="636.70" width="5.20" height="5.20" fill="#151515" stroke="none" stroke-width="1"/>
<line x1="356.50" y1="698.80" x2="380.60" y2="698.80" stroke="#151515" stroke-width="1.6"/>
<line x1="362.20" y1="693.10" x2="375.50" y2="693.10" stroke="#151515" stroke-width="1.6"/>
<line x1="368.50" y1="693.10" x2="368.50" y2="707.00" stroke="#151515" stroke-width="1.6"/>
<line x1="391.60" y1="619.00" x2="414.80" y2="619.00" stroke="#151515" stroke-width="1.6"/>
<line x1="396.90" y1="611.00" x2="409.10" y2="611.00" stroke="#151515" stroke-width="1.6"/>
<line x1="396.90" y1="627.60" x2="409.10" y2="627.60" stroke="#151515" stroke-width="1.6"/>
<line x1="403.00" y1="611.00" x2="403.00" y2="627.60" stroke="#151515" stroke-width="1.6"/>
<text transform="translate(319.00,635.95) rotate(-90)" x="-68.55" y="3.85" font-size="11.2" fill="#1e1e1e" textLength="137.10" lengthAdjust="spacingAndGlyphs">Number of liver metastasis</text>
<text transform="translate(334.20,637.75) rotate(-90)" x="-47.75" y="3.85" font-size="11.2" fill="#1e1e1e" textLength="95.50" lengthAdjust="spacingAndGlyphs">Nodules per animal</text>
<text transform="translate(349.40,726.40) rotate(-35)" x="-17.50" y="3.85" font-size="11.2" fill="#1e1e1e" textLength="35.00" lengthAdjust="spacingAndGlyphs">Vector</text>
<text transform="translate(386.00,733.40) rotate(-35)" x="-20.00" y="3.85" font-size="11.2" fill="#1e1e1e" textLength="40.00" lengthAdjust="spacingAndGlyphs">OSBPL3</text>
<rect x="490.60" y="554.60" width="188.60" height="161.10" fill="#efefef" stroke="none" stroke-width="1"/>
<line x1="490.60" y1="554.60" x2="679.20" y2="554.60" stroke="#aaa" stroke-width="1.0"/>
<line x1="679.20" y1="554.60" x2="679.20" y2="715.70" stroke="#aaa" stroke-width="1.0"/>
<line x1="490.60" y1="554.10" x2="490.60" y2="716.30" stroke="#777" stroke-width="1.2"/>
<line x1="490.00" y1="715.70" x2="679.70" y2="715.70" stroke="#777" stroke-width="1.2"/>
<line x1="490.60" y1="562.50" x2="497.00" y2="562.50" stroke="#777" stroke-width="1.0"/>
<line x1="490.60" y1="591.60" x2="497.00" y2="591.60" stroke="#777" stroke-width="1.0"/>
<line x1="490.60" y1="620.70" x2="497.00" y2="620.70" stroke="#777" stroke-width="1.0"/>
<line x1="490.60" y1="649.80" x2="497.00" y2="649.80" stroke="#777" stroke-width="1.0"/>
<line x1="490.60" y1="678.90" x2="497.00" y2="678.90" stroke="#777" stroke-width="1.0"/>
<line x1="490.60" y1="708.00" x2="497.00" y2="708.00" stroke="#777" stroke-width="1.0"/>
<line x1="499.70" y1="715.70" x2="499.70" y2="709.20" stroke="#777" stroke-width="1.0"/>
<line x1="533.65" y1="715.70" x2="533.65" y2="709.20" stroke="#777" stroke-width="1.0"/>
<line x1="567.60" y1="715.70" x2="567.60" y2="709.20" stroke="#777" stroke-width="1.0"/>
<line x1="601.55" y1="715.70" x2="601.55" y2="709.20" stroke="#777" stroke-width="1.0"/>
<line x1="635.50" y1="715.70" x2="635.50" y2="709.20" stroke="#777" stroke-width="1.0"/>
<line x1="669.45" y1="715.70" x2="669.45" y2="709.20" stroke="#777" stroke-width="1.0"/>
<text x="469.30" y="565.12" font-size="10.8" fill="#1e1e1e" textLength="14.60" lengthAdjust="spacingAndGlyphs">1.0</text>
<text x="470.60" y="594.02" font-size="10.8" fill="#1e1e1e" textLength="15.70" lengthAdjust="spacingAndGlyphs">0.8</text>
<text x="470.60" y="623.02" font-size="10.8" fill="#1e1e1e" textLength="15.70" lengthAdjust="spacingAndGlyphs">0.6</text>
<text x="470.60" y="651.92" font-size="10.8" fill="#1e1e1e" textLength="15.70" lengthAdjust="spacingAndGlyphs">0.4</text>
<text x="470.60" y="681.02" font-size="10.8" fill="#1e1e1e" textLength="15.70" lengthAdjust="spacingAndGlyphs">0.2</text>
<text x="470.60" y="716.72" font-size="10.8" fill="#1e1e1e" textLength="15.70" lengthAdjust="spacingAndGlyphs">0.0</text>
<text x="498.80" y="735.35" font-size="11.2" fill="#1e1e1e" text-anchor="middle">35</text>
<text x="537.00" y="735.35" font-size="11.2" fill="#1e1e1e" text-anchor="middle">40</text>
<text x="571.50" y="735.35" font-size="11.2" fill="#1e1e1e" text-anchor="middle">45</text>
<text x="601.30" y="735.35" font-size="11.2" fill="#1e1e1e" text-anchor="middle">50</text>
<text x="633.00" y="735.35" font-size="11.2" fill="#1e1e1e" text-anchor="middle">55</text>
<text x="665.20" y="735.35" font-size="11.2" fill="#1e1e1e" text-anchor="middle">60</text>
<text x="537.00" y="752.85" font-size="11.2" fill="#1e1e1e" textLength="106.00" lengthAdjust="spacingAndGlyphs">Days after Operation</text>
<text transform="translate(459.40,638.10) rotate(-90)" x="-20.80" y="3.85" font-size="11.2" fill="#1e1e1e" textLength="41.60" lengthAdjust="spacingAndGlyphs">Survival</text>
<path d="M527.2,562.5 L594.8,562.5 L594.8,586.8 L615.5,586.8 L615.5,611.0 L642.4,611.0 L642.4,635.2 L669.8,635.2" stroke="#4a62b2" stroke-width="1.5" fill="none"/>
<path d="M527.2,586.8 L533.5,586.8 L533.5,611.0 L547.3,611.0 L547.3,635.2 L574.3,635.2 L574.3,659.5 L595.1,659.5 L595.1,683.8 L636.8,683.8" stroke="#42b54c" stroke-width="1.5" fill="none"/>
<path d="M500.2,666.6 L516.7,666.6 L516.7,654.0 L524.2,654.0 L524.2,666.6" stroke="#3a56b4" stroke-width="2.8" fill="none"/>
<path d="M502.0,698.6 L517.7,698.6 L517.7,686.4 L525.4,686.4 L525.4,698.2" stroke="#2db84a" stroke-width="2.8" fill="none"/>
<text x="518.40" y="677.85" font-size="11.2" fill="#1e1e1e" textLength="58.90" lengthAdjust="spacingAndGlyphs">RKO-Vector</text>
<text x="530.70" y="700.75" font-size="11.2" fill="#1e1e1e" textLength="64.10" lengthAdjust="spacingAndGlyphs">RKO-OSBPL3</text>
<text x="610.20" y="656.15" font-size="11.2" fill="#1e1e1e" textLength="34.50" lengthAdjust="spacingAndGlyphs"><tspan font-style="italic">P</tspan><tspan>=0.02</tspan></text>
</svg></body></html>
